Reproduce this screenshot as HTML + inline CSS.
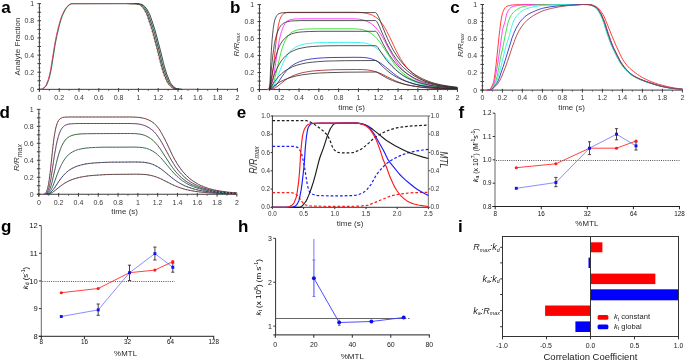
<!DOCTYPE html>
<html><head><meta charset="utf-8"><style>
html,body{margin:0;padding:0;background:#fff;}
svg{display:block;will-change:transform;font-family:"Liberation Sans",sans-serif;}
</style></head><body>
<svg width="685" height="361" viewBox="0 0 685 361">
<rect width="685" height="361" fill="#fff"/>
<line x1="39.4" y1="91.65" x2="39.4" y2="3.65" stroke="#3c3c3c" stroke-width="1"/>
<line x1="37.4" y1="89.35" x2="41" y2="89.35" stroke="#3c3c3c" stroke-width="1"/>
<line x1="38.4" y1="85.06" x2="40.4" y2="85.06" stroke="#3c3c3c" stroke-width="0.8"/>
<line x1="37.4" y1="80.78" x2="41" y2="80.78" stroke="#3c3c3c" stroke-width="1"/>
<line x1="38.4" y1="76.49" x2="40.4" y2="76.49" stroke="#3c3c3c" stroke-width="0.8"/>
<line x1="37.4" y1="72.21" x2="41" y2="72.21" stroke="#3c3c3c" stroke-width="1"/>
<line x1="38.4" y1="67.92" x2="40.4" y2="67.92" stroke="#3c3c3c" stroke-width="0.8"/>
<line x1="37.4" y1="63.64" x2="41" y2="63.64" stroke="#3c3c3c" stroke-width="1"/>
<line x1="38.4" y1="59.35" x2="40.4" y2="59.35" stroke="#3c3c3c" stroke-width="0.8"/>
<line x1="37.4" y1="55.07" x2="41" y2="55.07" stroke="#3c3c3c" stroke-width="1"/>
<line x1="38.4" y1="50.78" x2="40.4" y2="50.78" stroke="#3c3c3c" stroke-width="0.8"/>
<line x1="37.4" y1="46.5" x2="41" y2="46.5" stroke="#3c3c3c" stroke-width="1"/>
<line x1="38.4" y1="42.21" x2="40.4" y2="42.21" stroke="#3c3c3c" stroke-width="0.8"/>
<line x1="37.4" y1="37.93" x2="41" y2="37.93" stroke="#3c3c3c" stroke-width="1"/>
<line x1="38.4" y1="33.64" x2="40.4" y2="33.64" stroke="#3c3c3c" stroke-width="0.8"/>
<line x1="37.4" y1="29.36" x2="41" y2="29.36" stroke="#3c3c3c" stroke-width="1"/>
<line x1="38.4" y1="25.07" x2="40.4" y2="25.07" stroke="#3c3c3c" stroke-width="0.8"/>
<line x1="37.4" y1="20.79" x2="41" y2="20.79" stroke="#3c3c3c" stroke-width="1"/>
<line x1="38.4" y1="16.5" x2="40.4" y2="16.5" stroke="#3c3c3c" stroke-width="0.8"/>
<line x1="37.4" y1="12.22" x2="41" y2="12.22" stroke="#3c3c3c" stroke-width="1"/>
<line x1="38.4" y1="7.93" x2="40.4" y2="7.93" stroke="#3c3c3c" stroke-width="0.8"/>
<line x1="37.4" y1="3.65" x2="41" y2="3.65" stroke="#3c3c3c" stroke-width="1"/>
<text x="34.2" y="91.85" font-size="7" fill="#3a3a3a" text-anchor="end">0</text>
<text x="34.2" y="74.71" font-size="7" fill="#3a3a3a" text-anchor="end">0.2</text>
<text x="34.2" y="57.57" font-size="7" fill="#3a3a3a" text-anchor="end">0.4</text>
<text x="34.2" y="40.43" font-size="7" fill="#3a3a3a" text-anchor="end">0.6</text>
<text x="34.2" y="23.29" font-size="7" fill="#3a3a3a" text-anchor="end">0.8</text>
<text x="34.2" y="6.15" font-size="7" fill="#3a3a3a" text-anchor="end">1</text>
<line x1="37.4" y1="89.35" x2="237.4" y2="89.35" stroke="#3c3c3c" stroke-width="1"/>
<line x1="39.4" y1="88.05" x2="39.4" y2="91.75" stroke="#3c3c3c" stroke-width="1"/>
<line x1="49.3" y1="89.35" x2="49.3" y2="90.85" stroke="#3c3c3c" stroke-width="0.8"/>
<line x1="59.2" y1="88.05" x2="59.2" y2="91.75" stroke="#3c3c3c" stroke-width="1"/>
<line x1="69.1" y1="89.35" x2="69.1" y2="90.85" stroke="#3c3c3c" stroke-width="0.8"/>
<line x1="79" y1="88.05" x2="79" y2="91.75" stroke="#3c3c3c" stroke-width="1"/>
<line x1="88.9" y1="89.35" x2="88.9" y2="90.85" stroke="#3c3c3c" stroke-width="0.8"/>
<line x1="98.8" y1="88.05" x2="98.8" y2="91.75" stroke="#3c3c3c" stroke-width="1"/>
<line x1="108.7" y1="89.35" x2="108.7" y2="90.85" stroke="#3c3c3c" stroke-width="0.8"/>
<line x1="118.6" y1="88.05" x2="118.6" y2="91.75" stroke="#3c3c3c" stroke-width="1"/>
<line x1="128.5" y1="89.35" x2="128.5" y2="90.85" stroke="#3c3c3c" stroke-width="0.8"/>
<line x1="138.4" y1="88.05" x2="138.4" y2="91.75" stroke="#3c3c3c" stroke-width="1"/>
<line x1="148.3" y1="89.35" x2="148.3" y2="90.85" stroke="#3c3c3c" stroke-width="0.8"/>
<line x1="158.2" y1="88.05" x2="158.2" y2="91.75" stroke="#3c3c3c" stroke-width="1"/>
<line x1="168.1" y1="89.35" x2="168.1" y2="90.85" stroke="#3c3c3c" stroke-width="0.8"/>
<line x1="178" y1="88.05" x2="178" y2="91.75" stroke="#3c3c3c" stroke-width="1"/>
<line x1="187.9" y1="89.35" x2="187.9" y2="90.85" stroke="#3c3c3c" stroke-width="0.8"/>
<line x1="197.8" y1="88.05" x2="197.8" y2="91.75" stroke="#3c3c3c" stroke-width="1"/>
<line x1="207.7" y1="89.35" x2="207.7" y2="90.85" stroke="#3c3c3c" stroke-width="0.8"/>
<line x1="217.6" y1="88.05" x2="217.6" y2="91.75" stroke="#3c3c3c" stroke-width="1"/>
<line x1="227.5" y1="89.35" x2="227.5" y2="90.85" stroke="#3c3c3c" stroke-width="0.8"/>
<line x1="237.4" y1="88.05" x2="237.4" y2="91.75" stroke="#3c3c3c" stroke-width="1"/>
<text x="39.4" y="99.65" font-size="7" fill="#3a3a3a" text-anchor="middle">0</text>
<text x="59.2" y="99.65" font-size="7" fill="#3a3a3a" text-anchor="middle">0.2</text>
<text x="79" y="99.65" font-size="7" fill="#3a3a3a" text-anchor="middle">0.4</text>
<text x="98.8" y="99.65" font-size="7" fill="#3a3a3a" text-anchor="middle">0.6</text>
<text x="118.6" y="99.65" font-size="7" fill="#3a3a3a" text-anchor="middle">0.8</text>
<text x="138.4" y="99.65" font-size="7" fill="#3a3a3a" text-anchor="middle">1</text>
<text x="158.2" y="99.65" font-size="7" fill="#3a3a3a" text-anchor="middle">1.2</text>
<text x="178" y="99.65" font-size="7" fill="#3a3a3a" text-anchor="middle">1.4</text>
<text x="197.8" y="99.65" font-size="7" fill="#3a3a3a" text-anchor="middle">1.6</text>
<text x="217.6" y="99.65" font-size="7" fill="#3a3a3a" text-anchor="middle">1.8</text>
<text x="237.4" y="99.65" font-size="7" fill="#3a3a3a" text-anchor="middle">2</text>
<text x="20.3" y="46.5" font-size="8" fill="#333" text-anchor="middle" transform="rotate(-90 20.3 46.5)">Analyte Fraction</text>
<path d="M127.6,3.6 L135.1,3.7 L137.1,4.0 L139.3,4.5 L140.5,5.2 L141.8,6.3 L143.5,8.2 L144.7,10.0 L146.5,13.3 L147.7,16.2 L151.7,28.2 L153.6,34.9 L157.8,50.9 L160.6,62.3 L161.8,66.9 L164.0,74.0 L166.5,80.1 L167.7,82.6 L168.7,84.2 L170.7,86.3 L172.4,87.8 L173.7,88.5 L174.7,88.9 L177.4,89.3 L179.6,89.3" fill="none" stroke="#111" stroke-width="0.8" stroke-linejoin="round"/>
<path d="M129.0,3.6 L136.4,3.7 L138.4,4.0 L140.6,4.5 L141.9,5.2 L143.1,6.3 L144.8,8.2 L146.1,10.0 L147.8,13.3 L149.0,16.2 L153.0,28.2 L155.0,34.9 L159.2,50.9 L161.9,62.3 L163.2,66.9 L165.4,74.0 L167.9,80.1 L169.1,82.6 L170.1,84.2 L172.1,86.3 L173.8,87.8 L175.0,88.5 L176.0,88.9 L178.7,89.3 L181.0,89.3" fill="none" stroke="#111" stroke-width="0.8" stroke-linejoin="round"/>
<path d="M130.3,3.6 L137.8,3.7 L139.8,4.0 L142.0,4.5 L143.2,5.2 L144.5,6.3 L146.2,8.2 L147.4,10.0 L149.2,13.3 L150.4,16.2 L154.4,28.2 L156.3,34.9 L160.5,50.9 L163.3,62.3 L164.5,66.9 L166.7,74.0 L169.2,80.1 L170.4,82.6 L171.4,84.2 L173.4,86.3 L175.1,87.8 L176.4,88.5 L177.4,88.9 L180.1,89.3 L182.3,89.3" fill="none" stroke="#111" stroke-width="0.8" stroke-linejoin="round"/>
<path d="M126.9,3.6 L134.4,3.7 L136.4,4.0 L138.6,4.5 L139.8,5.2 L141.1,6.3 L142.8,8.2 L144.0,10.0 L145.8,13.3 L147.0,16.2 L151.0,28.2 L152.9,34.9 L157.1,50.9 L159.9,62.3 L161.1,66.9 L163.3,74.0 L165.8,80.1 L167.0,82.6 L168.0,84.2 L170.0,86.3 L171.7,87.8 L173.0,88.5 L174.0,88.9 L176.7,89.3 L178.9,89.3" fill="none" stroke="#e02020" stroke-width="0.6" stroke-linejoin="round" stroke-dasharray="1.5,2"/>
<path d="M128.3,3.6 L135.7,3.7 L137.7,4.0 L139.9,4.5 L141.2,5.2 L142.4,6.3 L144.1,8.2 L145.4,10.0 L147.1,13.3 L148.3,16.2 L152.3,28.2 L154.3,34.9 L158.5,50.9 L161.2,62.3 L162.5,66.9 L164.7,74.0 L167.2,80.1 L168.4,82.6 L169.4,84.2 L171.4,86.3 L173.1,87.8 L174.3,88.5 L175.3,88.9 L178.0,89.3 L180.3,89.3" fill="none" stroke="#30c030" stroke-width="0.6" stroke-linejoin="round" stroke-dasharray="1.2,2.2"/>
<path d="M129.6,3.6 L137.1,3.7 L139.1,4.0 L141.3,4.5 L142.5,5.2 L143.8,6.3 L145.5,8.2 L146.7,10.0 L148.5,13.3 L149.7,16.2 L153.7,28.2 L155.6,34.9 L159.8,50.9 L162.6,62.3 L163.8,66.9 L166.0,74.0 L168.5,80.1 L169.7,82.6 L170.7,84.2 L172.7,86.3 L174.4,87.8 L175.7,88.5 L176.7,88.9 L179.4,89.3 L181.6,89.3" fill="none" stroke="#00c0c0" stroke-width="0.6" stroke-linejoin="round" stroke-dasharray="1.2,2.2"/>
<line x1="182.95" y1="89.35" x2="195.82" y2="89.35" stroke="#ff4040" stroke-width="1" stroke-opacity="0.7"/>
<path d="M41.0,89.3 L42.0,89.3 L43.0,88.9 L44.2,88.0 L45.7,86.6 L46.4,85.5 L47.2,84.0 L48.9,79.5 L50.1,74.9 L51.4,69.1 L55.3,44.1 L57.1,35.4 L59.1,26.9 L60.0,23.3 L61.3,19.2 L62.3,16.3 L63.0,14.5 L64.3,11.9 L65.5,9.5 L66.7,7.7 L67.7,6.5 L69.4,5.0 L70.4,4.3 L71.4,3.8 L72.2,3.7 L133.6,3.6" fill="none" stroke="#20c020" stroke-width="0.7" stroke-linejoin="round"/>
<path d="M40.6,89.3 L41.6,89.3 L42.6,88.9 L43.9,88.0 L45.3,86.6 L46.1,85.5 L46.8,84.0 L48.6,79.5 L49.8,74.9 L51.0,69.1 L55.0,44.1 L56.7,35.4 L58.7,26.9 L59.7,23.3 L60.9,19.2 L61.9,16.3 L62.7,14.5 L63.9,11.9 L65.1,9.5 L66.4,7.7 L67.4,6.5 L69.1,5.0 L70.1,4.3 L71.1,3.8 L71.8,3.7 L133.2,3.6" fill="none" stroke="#222" stroke-width="0.7" stroke-linejoin="round"/>
<path d="M40.3,89.3 L41.3,89.3 L42.3,88.9 L43.6,88.0 L45.0,86.6 L45.8,85.5 L46.5,84.0 L48.3,79.5 L49.5,74.9 L50.7,69.1 L54.7,44.1 L56.4,35.4 L58.4,26.9 L59.4,23.3 L60.6,19.2 L61.6,16.3 L62.4,14.5 L63.6,11.9 L64.8,9.5 L66.1,7.7 L67.1,6.5 L68.8,5.0 L69.8,4.3 L70.8,3.8 L71.5,3.7 L132.9,3.6" fill="none" stroke="#ff3090" stroke-width="0.7" stroke-linejoin="round"/>
<text x="1.2" y="12.8" font-size="17" fill="#000" font-weight="bold">a</text>
<line x1="259.45" y1="91.85" x2="259.45" y2="4.6" stroke="#3c3c3c" stroke-width="1"/>
<line x1="257.45" y1="89.55" x2="261.05" y2="89.55" stroke="#3c3c3c" stroke-width="1"/>
<line x1="258.45" y1="85.3" x2="260.45" y2="85.3" stroke="#3c3c3c" stroke-width="0.8"/>
<line x1="257.45" y1="81.05" x2="261.05" y2="81.05" stroke="#3c3c3c" stroke-width="1"/>
<line x1="258.45" y1="76.81" x2="260.45" y2="76.81" stroke="#3c3c3c" stroke-width="0.8"/>
<line x1="257.45" y1="72.56" x2="261.05" y2="72.56" stroke="#3c3c3c" stroke-width="1"/>
<line x1="258.45" y1="68.31" x2="260.45" y2="68.31" stroke="#3c3c3c" stroke-width="0.8"/>
<line x1="257.45" y1="64.06" x2="261.05" y2="64.06" stroke="#3c3c3c" stroke-width="1"/>
<line x1="258.45" y1="59.82" x2="260.45" y2="59.82" stroke="#3c3c3c" stroke-width="0.8"/>
<line x1="257.45" y1="55.57" x2="261.05" y2="55.57" stroke="#3c3c3c" stroke-width="1"/>
<line x1="258.45" y1="51.32" x2="260.45" y2="51.32" stroke="#3c3c3c" stroke-width="0.8"/>
<line x1="257.45" y1="47.07" x2="261.05" y2="47.07" stroke="#3c3c3c" stroke-width="1"/>
<line x1="258.45" y1="42.83" x2="260.45" y2="42.83" stroke="#3c3c3c" stroke-width="0.8"/>
<line x1="257.45" y1="38.58" x2="261.05" y2="38.58" stroke="#3c3c3c" stroke-width="1"/>
<line x1="258.45" y1="34.33" x2="260.45" y2="34.33" stroke="#3c3c3c" stroke-width="0.8"/>
<line x1="257.45" y1="30.08" x2="261.05" y2="30.08" stroke="#3c3c3c" stroke-width="1"/>
<line x1="258.45" y1="25.84" x2="260.45" y2="25.84" stroke="#3c3c3c" stroke-width="0.8"/>
<line x1="257.45" y1="21.59" x2="261.05" y2="21.59" stroke="#3c3c3c" stroke-width="1"/>
<line x1="258.45" y1="17.34" x2="260.45" y2="17.34" stroke="#3c3c3c" stroke-width="0.8"/>
<line x1="257.45" y1="13.09" x2="261.05" y2="13.09" stroke="#3c3c3c" stroke-width="1"/>
<line x1="258.45" y1="8.85" x2="260.45" y2="8.85" stroke="#3c3c3c" stroke-width="0.8"/>
<line x1="257.45" y1="4.6" x2="261.05" y2="4.6" stroke="#3c3c3c" stroke-width="1"/>
<text x="254.25" y="92.05" font-size="7" fill="#3a3a3a" text-anchor="end">0</text>
<text x="254.25" y="75.06" font-size="7" fill="#3a3a3a" text-anchor="end">0.2</text>
<text x="254.25" y="58.07" font-size="7" fill="#3a3a3a" text-anchor="end">0.4</text>
<text x="254.25" y="41.08" font-size="7" fill="#3a3a3a" text-anchor="end">0.6</text>
<text x="254.25" y="24.09" font-size="7" fill="#3a3a3a" text-anchor="end">0.8</text>
<text x="254.25" y="7.1" font-size="7" fill="#3a3a3a" text-anchor="end">1</text>
<line x1="257.45" y1="89.55" x2="457.45" y2="89.55" stroke="#3c3c3c" stroke-width="1"/>
<line x1="259.45" y1="88.25" x2="259.45" y2="91.95" stroke="#3c3c3c" stroke-width="1"/>
<line x1="269.35" y1="89.55" x2="269.35" y2="91.05" stroke="#3c3c3c" stroke-width="0.8"/>
<line x1="279.25" y1="88.25" x2="279.25" y2="91.95" stroke="#3c3c3c" stroke-width="1"/>
<line x1="289.15" y1="89.55" x2="289.15" y2="91.05" stroke="#3c3c3c" stroke-width="0.8"/>
<line x1="299.05" y1="88.25" x2="299.05" y2="91.95" stroke="#3c3c3c" stroke-width="1"/>
<line x1="308.95" y1="89.55" x2="308.95" y2="91.05" stroke="#3c3c3c" stroke-width="0.8"/>
<line x1="318.85" y1="88.25" x2="318.85" y2="91.95" stroke="#3c3c3c" stroke-width="1"/>
<line x1="328.75" y1="89.55" x2="328.75" y2="91.05" stroke="#3c3c3c" stroke-width="0.8"/>
<line x1="338.65" y1="88.25" x2="338.65" y2="91.95" stroke="#3c3c3c" stroke-width="1"/>
<line x1="348.55" y1="89.55" x2="348.55" y2="91.05" stroke="#3c3c3c" stroke-width="0.8"/>
<line x1="358.45" y1="88.25" x2="358.45" y2="91.95" stroke="#3c3c3c" stroke-width="1"/>
<line x1="368.35" y1="89.55" x2="368.35" y2="91.05" stroke="#3c3c3c" stroke-width="0.8"/>
<line x1="378.25" y1="88.25" x2="378.25" y2="91.95" stroke="#3c3c3c" stroke-width="1"/>
<line x1="388.15" y1="89.55" x2="388.15" y2="91.05" stroke="#3c3c3c" stroke-width="0.8"/>
<line x1="398.05" y1="88.25" x2="398.05" y2="91.95" stroke="#3c3c3c" stroke-width="1"/>
<line x1="407.95" y1="89.55" x2="407.95" y2="91.05" stroke="#3c3c3c" stroke-width="0.8"/>
<line x1="417.85" y1="88.25" x2="417.85" y2="91.95" stroke="#3c3c3c" stroke-width="1"/>
<line x1="427.75" y1="89.55" x2="427.75" y2="91.05" stroke="#3c3c3c" stroke-width="0.8"/>
<line x1="437.65" y1="88.25" x2="437.65" y2="91.95" stroke="#3c3c3c" stroke-width="1"/>
<line x1="447.55" y1="89.55" x2="447.55" y2="91.05" stroke="#3c3c3c" stroke-width="0.8"/>
<line x1="457.45" y1="88.25" x2="457.45" y2="91.95" stroke="#3c3c3c" stroke-width="1"/>
<text x="259.45" y="99.85" font-size="7" fill="#3a3a3a" text-anchor="middle">0</text>
<text x="279.25" y="99.85" font-size="7" fill="#3a3a3a" text-anchor="middle">0.2</text>
<text x="299.05" y="99.85" font-size="7" fill="#3a3a3a" text-anchor="middle">0.4</text>
<text x="318.85" y="99.85" font-size="7" fill="#3a3a3a" text-anchor="middle">0.6</text>
<text x="338.65" y="99.85" font-size="7" fill="#3a3a3a" text-anchor="middle">0.8</text>
<text x="358.45" y="99.85" font-size="7" fill="#3a3a3a" text-anchor="middle">1</text>
<text x="378.25" y="99.85" font-size="7" fill="#3a3a3a" text-anchor="middle">1.2</text>
<text x="398.05" y="99.85" font-size="7" fill="#3a3a3a" text-anchor="middle">1.4</text>
<text x="417.85" y="99.85" font-size="7" fill="#3a3a3a" text-anchor="middle">1.6</text>
<text x="437.65" y="99.85" font-size="7" fill="#3a3a3a" text-anchor="middle">1.8</text>
<text x="457.45" y="99.85" font-size="7" fill="#3a3a3a" text-anchor="middle">2</text>
<text x="351.5" y="110.2" font-size="8" fill="#333" text-anchor="middle">time (s)</text>
<text transform="translate(238.6,56.5) rotate(-90)" font-size="8" fill="#333" font-style="italic">R/R<tspan font-size="5.2" dy="1.6">max</tspan></text>
<path d="M266.9,89.5 L267.6,89.2 L268.4,88.7 L269.1,87.7 L269.6,86.8 L270.6,84.0 L271.6,79.7 L272.3,75.2 L273.3,67.7 L275.8,43.9 L277.0,33.7 L278.3,26.1 L279.0,22.7 L279.7,20.0 L280.5,18.0 L281.5,16.0 L282.5,14.7 L283.7,13.7 L285.2,13.0 L286.9,12.5 L288.9,12.3 L292.1,12.3 L351.5,12.2 L358.0,12.3 L362.2,12.6 L365.9,13.2 L369.3,14.1 L372.3,15.2 L375.3,16.9 L376.8,17.9 L378.0,18.9 L380.2,21.2 L382.7,24.5 L384.9,27.9 L386.9,31.5 L389.9,37.5 L396.1,50.5 L398.3,54.8 L400.5,58.7 L403.2,62.8 L406.2,66.7 L409.4,70.3 L412.7,73.3 L414.6,74.9 L416.6,76.4 L418.8,77.8 L421.1,79.1 L423.3,80.3 L425.8,81.4 L430.7,83.3 L436.4,84.9 L442.6,86.2 L449.5,87.2 L457.4,88.0" fill="none" stroke="#ff2a2a" stroke-width="0.9" stroke-linejoin="round"/>
<path d="M267.4,89.5 L268.4,89.1 L269.1,88.7 L269.8,87.9 L270.3,87.2 L271.1,85.8 L271.6,84.5 L272.6,81.2 L273.3,77.9 L274.1,73.8 L277.5,50.7 L279.2,40.8 L280.2,36.2 L281.5,31.5 L282.5,28.6 L283.7,25.7 L284.9,23.6 L286.4,21.9 L287.9,20.7 L289.6,19.9 L291.6,19.4 L294.3,19.0 L297.8,18.9 L303.0,18.8 L349.0,18.8 L355.0,18.9 L358.7,19.1 L361.9,19.7 L364.4,20.3 L367.1,21.4 L370.1,22.9 L372.8,24.9 L375.3,27.1 L377.5,29.7 L380.0,33.1 L382.5,37.1 L384.4,40.6 L392.1,54.8 L394.6,59.0 L396.8,62.4 L399.8,66.3 L402.8,69.7 L406.0,72.8 L409.2,75.4 L411.2,76.8 L413.4,78.2 L415.6,79.5 L418.1,80.7 L420.6,81.8 L423.0,82.8 L428.5,84.5 L434.4,85.8 L441.1,86.9 L448.8,87.8 L457.4,88.4" fill="none" stroke="#ff30ff" stroke-width="0.9" stroke-linejoin="round"/>
<path d="M267.9,89.4 L268.9,89.2 L269.6,88.9 L270.8,87.9 L271.6,87.0 L272.1,86.2 L273.3,83.5 L274.1,81.2 L275.0,77.6 L279.5,58.2 L281.0,52.4 L282.2,48.2 L283.7,44.0 L285.2,40.5 L286.7,37.7 L288.4,35.3 L289.4,34.2 L290.4,33.3 L292.4,31.9 L294.8,30.8 L297.8,29.9 L301.0,29.4 L305.2,29.1 L310.7,28.9 L318.8,28.8 L350.5,28.8 L356.2,28.9 L359.4,29.2 L362.2,29.6 L364.6,30.2 L366.9,31.1 L369.6,32.4 L372.1,34.1 L374.8,36.3 L377.0,38.6 L379.2,41.3 L381.5,44.4 L383.9,48.1 L391.4,59.6 L393.8,63.2 L396.1,66.1 L399.0,69.5 L402.0,72.4 L405.2,75.1 L408.7,77.5 L412.9,79.9 L417.6,82.0 L422.6,83.8 L428.0,85.2 L434.2,86.4 L440.9,87.4 L448.5,88.1 L457.4,88.6" fill="none" stroke="#30e030" stroke-width="0.9" stroke-linejoin="round"/>
<path d="M268.6,89.4 L270.1,89.1 L271.6,88.3 L272.8,87.1 L273.8,85.7 L274.8,83.9 L276.0,81.1 L280.5,69.3 L282.2,65.0 L283.7,61.6 L285.2,58.7 L287.2,55.3 L289.4,52.3 L291.6,50.0 L294.1,48.1 L295.6,47.1 L297.1,46.4 L300.3,45.1 L304.0,44.1 L308.2,43.5 L313.2,43.0 L319.3,42.7 L327.3,42.5 L338.6,42.4 L354.7,42.4 L360.4,42.6 L363.2,42.8 L365.4,43.1 L367.6,43.7 L369.6,44.3 L372.1,45.4 L374.3,46.7 L376.8,48.4 L379.0,50.2 L380.7,51.9 L383.0,54.3 L392.9,66.1 L395.6,69.1 L397.8,71.3 L400.5,73.7 L403.5,76.0 L406.7,78.1 L409.9,79.9 L414.1,81.8 L418.6,83.5 L423.5,84.9 L429.0,86.0 L434.9,87.0 L441.4,87.7 L448.8,88.3 L457.4,88.8" fill="none" stroke="#30f0f0" stroke-width="0.9" stroke-linejoin="round"/>
<path d="M269.6,89.4 L271.3,89.0 L272.6,88.5 L273.8,87.6 L275.0,86.4 L277.3,83.6 L282.0,76.6 L284.2,73.5 L286.7,70.5 L288.9,68.2 L291.4,66.1 L293.9,64.4 L296.6,63.0 L299.5,61.7 L303.3,60.5 L307.5,59.5 L312.2,58.8 L317.9,58.2 L324.3,57.8 L332.0,57.5 L355.0,57.3 L362.2,57.4 L364.9,57.6 L367.1,57.9 L369.3,58.3 L371.3,58.8 L373.5,59.5 L375.5,60.4 L379.0,62.2 L382.2,64.3 L385.4,66.8 L393.8,73.7 L396.8,75.9 L399.5,77.7 L402.5,79.4 L405.7,81.0 L409.2,82.4 L412.9,83.7 L416.9,84.8 L421.3,85.8 L426.0,86.6 L431.0,87.3 L436.4,87.9 L442.6,88.3 L449.5,88.7 L457.4,89.0" fill="none" stroke="#3030c8" stroke-width="0.9" stroke-linejoin="round"/>
<path d="M270.6,89.4 L272.1,89.1 L273.3,88.8 L274.3,88.4 L275.5,87.7 L278.0,85.9 L283.0,81.9 L285.4,80.0 L287.9,78.4 L290.4,77.0 L293.1,75.7 L295.8,74.6 L299.1,73.6 L302.3,72.7 L306.5,71.9 L310.9,71.2 L316.1,70.7 L321.8,70.3 L328.3,70.0 L335.9,69.7 L356.7,69.5 L362.7,69.6 L367.1,69.9 L371.1,70.5 L375.0,71.5 L378.2,72.5 L381.5,73.9 L392.6,79.5 L395.6,80.9 L398.3,82.0 L401.5,83.2 L404.7,84.2 L408.2,85.1 L411.7,85.8 L415.6,86.5 L420.1,87.2 L425.0,87.7 L430.2,88.2 L442.4,88.8 L457.4,89.2" fill="none" stroke="#b03030" stroke-width="0.9" stroke-linejoin="round"/>
<path d="M269.3,89.5 L269.8,89.5 L270.8,61.7 L271.3,51.4 L272.1,39.9 L273.1,29.7 L273.6,26.1 L274.3,22.1 L275.0,19.3 L275.8,17.3 L276.8,15.5 L277.3,14.9 L278.0,14.2 L279.2,13.5 L281.0,13.0 L283.2,12.7 L286.9,12.6 L375.3,12.6 L375.8,12.7 L376.3,13.1 L377.0,14.0 L378.5,16.8 L380.0,20.2 L384.7,32.0 L387.4,38.4 L390.4,44.7 L393.3,50.2 L396.8,55.8 L400.3,60.6 L404.0,65.0 L406.0,67.1 L407.9,69.0 L410.2,70.9 L412.4,72.7 L414.9,74.5 L417.4,76.0 L419.8,77.4 L422.6,78.8 L425.3,80.0 L428.2,81.2 L431.2,82.3 L434.4,83.2 L437.9,84.1 L441.4,84.9 L449.0,86.2 L457.4,87.3" fill="none" stroke="#2a2a2a" stroke-width="0.8" stroke-linejoin="round"/>
<path d="M269.3,89.5 L269.8,89.5 L270.8,75.6 L271.6,66.8 L272.6,57.1 L273.6,49.5 L274.5,43.4 L275.8,37.6 L277.0,33.3 L278.3,30.1 L279.7,27.3 L281.2,25.3 L282.2,24.3 L283.2,23.5 L284.2,22.9 L285.4,22.3 L287.9,21.5 L290.9,21.0 L294.8,20.8 L300.8,20.6 L375.3,20.6 L375.8,20.7 L376.3,21.0 L376.8,21.6 L378.0,23.7 L379.5,26.8 L383.7,36.6 L386.4,42.5 L389.4,48.2 L392.6,53.7 L396.1,58.9 L399.5,63.2 L401.5,65.5 L403.5,67.5 L407.5,71.1 L409.7,72.8 L411.9,74.4 L414.4,76.0 L416.9,77.4 L419.6,78.8 L422.3,80.0 L425.0,81.1 L428.0,82.1 L434.2,83.9 L441.1,85.4 L448.8,86.6 L457.4,87.6" fill="none" stroke="#2a2a2a" stroke-width="0.8" stroke-linejoin="round"/>
<path d="M269.3,89.5 L269.8,89.5 L271.3,78.8 L272.6,71.1 L274.1,63.6 L275.8,56.5 L277.5,51.0 L279.2,46.7 L280.2,44.7 L281.2,42.9 L282.2,41.4 L283.5,39.8 L284.4,38.7 L285.7,37.5 L286.9,36.5 L288.4,35.5 L289.9,34.7 L291.4,34.0 L293.1,33.4 L294.8,33.0 L298.8,32.2 L303.5,31.8 L309.7,31.5 L318.1,31.3 L375.3,31.3 L375.8,31.3 L376.3,31.7 L376.8,32.2 L378.0,34.0 L379.5,36.7 L383.7,45.1 L386.2,49.6 L389.1,54.5 L392.4,59.2 L395.8,63.5 L399.5,67.5 L403.5,71.1 L407.5,74.0 L411.9,76.8 L414.4,78.2 L416.9,79.3 L419.6,80.5 L422.3,81.5 L428.0,83.3 L434.2,84.8 L441.1,86.1 L448.8,87.1 L457.4,87.9" fill="none" stroke="#2a2a2a" stroke-width="0.8" stroke-linejoin="round"/>
<path d="M269.3,89.5 L269.8,89.5 L272.3,80.7 L274.5,74.2 L276.5,69.4 L278.8,65.0 L281.2,61.1 L282.5,59.4 L284.0,57.6 L285.4,56.1 L286.9,54.8 L288.4,53.6 L290.1,52.4 L291.9,51.4 L293.6,50.6 L297.3,49.1 L301.8,48.0 L306.7,47.1 L312.4,46.5 L319.3,46.1 L327.8,45.8 L339.4,45.7 L375.8,45.7 L376.3,45.9 L376.8,46.3 L378.0,47.7 L383.4,55.8 L385.9,59.3 L388.9,63.0 L392.1,66.5 L395.6,69.8 L399.3,72.8 L403.2,75.5 L407.2,77.8 L411.7,79.9 L416.6,81.8 L422.1,83.5 L427.8,84.8 L433.9,86.0 L440.9,86.9 L448.5,87.7 L457.4,88.3" fill="none" stroke="#2a2a2a" stroke-width="0.8" stroke-linejoin="round"/>
<path d="M269.3,89.5 L269.8,89.5 L273.1,83.9 L274.5,81.7 L276.0,79.7 L278.8,76.4 L281.7,73.5 L284.9,71.0 L286.7,69.8 L288.7,68.7 L292.6,66.7 L296.8,65.2 L301.3,64.0 L306.5,62.9 L312.2,62.2 L318.6,61.6 L326.0,61.1 L334.7,60.9 L345.6,60.7 L360.2,60.6 L375.5,60.5 L376.3,60.7 L377.3,61.3 L378.2,62.1 L383.7,67.5 L386.9,70.4 L390.1,73.0 L393.3,75.2 L397.3,77.5 L401.8,79.7 L406.2,81.4 L411.2,83.0 L415.4,84.2 L420.1,85.2 L425.0,86.0 L430.5,86.8 L436.2,87.4 L442.6,87.9 L449.5,88.4 L457.4,88.7" fill="none" stroke="#2a2a2a" stroke-width="0.8" stroke-linejoin="round"/>
<path d="M269.3,89.5 L269.8,89.5 L273.3,86.5 L277.0,83.7 L280.2,81.8 L283.7,80.1 L287.7,78.4 L291.9,77.1 L296.6,75.9 L301.8,74.9 L307.0,74.2 L312.9,73.5 L319.6,73.0 L327.3,72.7 L346.1,72.2 L375.3,72.0 L376.3,72.1 L377.8,72.7 L385.9,77.5 L389.1,79.1 L392.4,80.5 L395.8,81.8 L399.3,82.9 L403.2,84.0 L407.2,84.9 L411.7,85.7 L416.6,86.5 L422.1,87.1 L427.8,87.7 L433.9,88.1 L440.9,88.5 L457.4,89.0" fill="none" stroke="#2a2a2a" stroke-width="0.8" stroke-linejoin="round"/>
<text x="230" y="12.8" font-size="17" fill="#000" font-weight="bold">b</text>
<line x1="482.4" y1="92.4" x2="482.4" y2="4.5" stroke="#3c3c3c" stroke-width="1"/>
<line x1="480.4" y1="90.1" x2="484" y2="90.1" stroke="#3c3c3c" stroke-width="1"/>
<line x1="481.4" y1="85.82" x2="483.4" y2="85.82" stroke="#3c3c3c" stroke-width="0.8"/>
<line x1="480.4" y1="81.54" x2="484" y2="81.54" stroke="#3c3c3c" stroke-width="1"/>
<line x1="481.4" y1="77.26" x2="483.4" y2="77.26" stroke="#3c3c3c" stroke-width="0.8"/>
<line x1="480.4" y1="72.98" x2="484" y2="72.98" stroke="#3c3c3c" stroke-width="1"/>
<line x1="481.4" y1="68.7" x2="483.4" y2="68.7" stroke="#3c3c3c" stroke-width="0.8"/>
<line x1="480.4" y1="64.42" x2="484" y2="64.42" stroke="#3c3c3c" stroke-width="1"/>
<line x1="481.4" y1="60.14" x2="483.4" y2="60.14" stroke="#3c3c3c" stroke-width="0.8"/>
<line x1="480.4" y1="55.86" x2="484" y2="55.86" stroke="#3c3c3c" stroke-width="1"/>
<line x1="481.4" y1="51.58" x2="483.4" y2="51.58" stroke="#3c3c3c" stroke-width="0.8"/>
<line x1="480.4" y1="47.3" x2="484" y2="47.3" stroke="#3c3c3c" stroke-width="1"/>
<line x1="481.4" y1="43.02" x2="483.4" y2="43.02" stroke="#3c3c3c" stroke-width="0.8"/>
<line x1="480.4" y1="38.74" x2="484" y2="38.74" stroke="#3c3c3c" stroke-width="1"/>
<line x1="481.4" y1="34.46" x2="483.4" y2="34.46" stroke="#3c3c3c" stroke-width="0.8"/>
<line x1="480.4" y1="30.18" x2="484" y2="30.18" stroke="#3c3c3c" stroke-width="1"/>
<line x1="481.4" y1="25.9" x2="483.4" y2="25.9" stroke="#3c3c3c" stroke-width="0.8"/>
<line x1="480.4" y1="21.62" x2="484" y2="21.62" stroke="#3c3c3c" stroke-width="1"/>
<line x1="481.4" y1="17.34" x2="483.4" y2="17.34" stroke="#3c3c3c" stroke-width="0.8"/>
<line x1="480.4" y1="13.06" x2="484" y2="13.06" stroke="#3c3c3c" stroke-width="1"/>
<line x1="481.4" y1="8.78" x2="483.4" y2="8.78" stroke="#3c3c3c" stroke-width="0.8"/>
<line x1="480.4" y1="4.5" x2="484" y2="4.5" stroke="#3c3c3c" stroke-width="1"/>
<text x="477.2" y="92.6" font-size="7" fill="#3a3a3a" text-anchor="end">0</text>
<text x="477.2" y="75.48" font-size="7" fill="#3a3a3a" text-anchor="end">0.2</text>
<text x="477.2" y="58.36" font-size="7" fill="#3a3a3a" text-anchor="end">0.4</text>
<text x="477.2" y="41.24" font-size="7" fill="#3a3a3a" text-anchor="end">0.6</text>
<text x="477.2" y="24.12" font-size="7" fill="#3a3a3a" text-anchor="end">0.8</text>
<text x="477.2" y="7" font-size="7" fill="#3a3a3a" text-anchor="end">1</text>
<line x1="480.4" y1="90.1" x2="682.4" y2="90.1" stroke="#3c3c3c" stroke-width="1"/>
<line x1="482.4" y1="88.8" x2="482.4" y2="92.5" stroke="#3c3c3c" stroke-width="1"/>
<line x1="492.4" y1="90.1" x2="492.4" y2="91.6" stroke="#3c3c3c" stroke-width="0.8"/>
<line x1="502.4" y1="88.8" x2="502.4" y2="92.5" stroke="#3c3c3c" stroke-width="1"/>
<line x1="512.4" y1="90.1" x2="512.4" y2="91.6" stroke="#3c3c3c" stroke-width="0.8"/>
<line x1="522.4" y1="88.8" x2="522.4" y2="92.5" stroke="#3c3c3c" stroke-width="1"/>
<line x1="532.4" y1="90.1" x2="532.4" y2="91.6" stroke="#3c3c3c" stroke-width="0.8"/>
<line x1="542.4" y1="88.8" x2="542.4" y2="92.5" stroke="#3c3c3c" stroke-width="1"/>
<line x1="552.4" y1="90.1" x2="552.4" y2="91.6" stroke="#3c3c3c" stroke-width="0.8"/>
<line x1="562.4" y1="88.8" x2="562.4" y2="92.5" stroke="#3c3c3c" stroke-width="1"/>
<line x1="572.4" y1="90.1" x2="572.4" y2="91.6" stroke="#3c3c3c" stroke-width="0.8"/>
<line x1="582.4" y1="88.8" x2="582.4" y2="92.5" stroke="#3c3c3c" stroke-width="1"/>
<line x1="592.4" y1="90.1" x2="592.4" y2="91.6" stroke="#3c3c3c" stroke-width="0.8"/>
<line x1="602.4" y1="88.8" x2="602.4" y2="92.5" stroke="#3c3c3c" stroke-width="1"/>
<line x1="612.4" y1="90.1" x2="612.4" y2="91.6" stroke="#3c3c3c" stroke-width="0.8"/>
<line x1="622.4" y1="88.8" x2="622.4" y2="92.5" stroke="#3c3c3c" stroke-width="1"/>
<line x1="632.4" y1="90.1" x2="632.4" y2="91.6" stroke="#3c3c3c" stroke-width="0.8"/>
<line x1="642.4" y1="88.8" x2="642.4" y2="92.5" stroke="#3c3c3c" stroke-width="1"/>
<line x1="652.4" y1="90.1" x2="652.4" y2="91.6" stroke="#3c3c3c" stroke-width="0.8"/>
<line x1="662.4" y1="88.8" x2="662.4" y2="92.5" stroke="#3c3c3c" stroke-width="1"/>
<line x1="672.4" y1="90.1" x2="672.4" y2="91.6" stroke="#3c3c3c" stroke-width="0.8"/>
<line x1="682.4" y1="88.8" x2="682.4" y2="92.5" stroke="#3c3c3c" stroke-width="1"/>
<text x="482.4" y="100.4" font-size="7" fill="#3a3a3a" text-anchor="middle">0</text>
<text x="502.4" y="100.4" font-size="7" fill="#3a3a3a" text-anchor="middle">0.2</text>
<text x="522.4" y="100.4" font-size="7" fill="#3a3a3a" text-anchor="middle">0.4</text>
<text x="542.4" y="100.4" font-size="7" fill="#3a3a3a" text-anchor="middle">0.6</text>
<text x="562.4" y="100.4" font-size="7" fill="#3a3a3a" text-anchor="middle">0.8</text>
<text x="582.4" y="100.4" font-size="7" fill="#3a3a3a" text-anchor="middle">1</text>
<text x="602.4" y="100.4" font-size="7" fill="#3a3a3a" text-anchor="middle">1.2</text>
<text x="622.4" y="100.4" font-size="7" fill="#3a3a3a" text-anchor="middle">1.4</text>
<text x="642.4" y="100.4" font-size="7" fill="#3a3a3a" text-anchor="middle">1.6</text>
<text x="662.4" y="100.4" font-size="7" fill="#3a3a3a" text-anchor="middle">1.8</text>
<text x="682.4" y="100.4" font-size="7" fill="#3a3a3a" text-anchor="middle">2</text>
<text x="571.5" y="110.2" font-size="8" fill="#333" text-anchor="middle">time (s)</text>
<text transform="translate(462.8,57) rotate(-90)" font-size="8" fill="#333" font-style="italic">R/R<tspan font-size="5.2" dy="1.6">max</tspan></text>
<path d="M486.4,90.1 L488.7,90.1 L489.4,89.7 L490.4,88.8 L491.4,87.2 L492.4,85.2 L493.4,82.8 L493.8,81.3 L494.8,75.0 L496.1,64.6 L499.1,35.7 L500.8,22.0 L501.4,18.1 L502.4,13.6 L503.1,11.6 L504.1,9.4 L505.1,7.7 L506.1,6.7 L507.8,5.9 L509.8,5.4 L512.5,5.0 L515.1,4.8 L529.5,4.5 L588.6,4.5 L590.2,4.7 L592.2,5.0 L593.9,5.6 L595.6,6.4 L597.6,7.6 L598.3,8.2 L599.3,9.2 L601.3,11.8 L603.3,15.0 L604.3,17.0 L605.6,20.1 L612.3,36.8 L614.0,40.8 L616.6,46.8 L621.3,56.9 L623.0,59.9 L625.0,62.9 L627.3,65.8 L629.6,68.2 L631.3,69.7 L633.3,71.3 L637.3,74.3 L639.7,75.9 L642.7,77.6 L645.7,79.2 L648.7,80.6 L651.3,81.7 L654.7,83.0 L658.4,84.2 L662.7,85.4 L667.0,86.5 L670.7,87.3 L674.7,88.0 L678.7,88.6 L682.4,89.0" fill="none" stroke="#ff2a2a" stroke-width="0.9" stroke-linejoin="round"/>
<path d="M486.7,90.1 L489.1,90.0 L489.7,89.7 L490.7,88.8 L491.7,87.5 L492.8,85.7 L494.1,83.0 L494.4,81.8 L495.1,78.7 L498.4,59.6 L501.8,34.8 L502.4,30.6 L503.1,27.8 L505.1,21.2 L506.4,14.9 L507.4,12.2 L508.1,10.8 L508.8,9.7 L509.4,8.9 L510.4,8.0 L511.1,7.5 L512.1,6.9 L514.8,6.0 L517.5,5.4 L522.1,4.9 L526.1,4.7 L547.2,4.6 L582.6,4.5 L588.2,4.6 L589.6,4.7 L591.9,5.4 L593.3,5.9 L594.9,6.9 L596.6,8.1 L597.9,9.6 L600.3,13.3 L601.6,15.9 L602.9,19.1 L604.6,23.6 L607.6,33.2 L610.9,42.8 L613.6,48.9 L618.3,58.3 L620.6,62.5 L623.0,65.9 L625.3,68.8 L628.6,72.3 L630.6,74.0 L632.3,75.2 L634.7,76.7 L637.7,78.2 L641.0,79.7 L644.3,81.0 L654.0,84.3 L660.0,86.0 L667.4,87.6 L670.7,88.1 L675.1,88.7 L682.4,89.3" fill="none" stroke="#ff30ff" stroke-width="0.9" stroke-linejoin="round"/>
<path d="M487.1,90.1 L488.7,90.1 L489.4,90.0 L490.1,89.7 L491.1,88.9 L492.4,87.3 L493.8,85.2 L495.1,82.9 L495.8,81.1 L497.1,76.3 L498.4,70.2 L500.4,58.2 L503.1,46.3 L505.4,34.2 L507.8,23.4 L508.8,20.2 L510.1,17.1 L510.8,15.8 L511.8,14.3 L513.5,12.3 L514.8,11.1 L516.5,9.9 L518.8,8.4 L520.5,7.5 L521.8,7.0 L523.8,6.4 L525.5,6.1 L528.1,5.7 L532.8,5.2 L537.2,4.9 L554.2,4.7 L572.2,4.5 L584.6,4.5 L587.9,4.6 L588.9,4.7 L591.2,5.4 L593.3,6.2 L595.6,7.8 L596.9,9.1 L598.3,10.9 L599.6,13.1 L600.6,15.1 L601.6,17.3 L603.9,23.4 L606.9,33.0 L610.3,42.6 L611.6,45.9 L613.0,48.8 L617.6,58.2 L619.0,60.7 L620.3,63.0 L621.6,64.9 L623.3,67.2 L625.0,69.1 L627.0,71.2 L628.6,72.8 L630.3,74.2 L632.3,75.6 L634.7,77.0 L637.3,78.3 L640.3,79.7 L646.7,82.1 L656.4,85.2 L662.0,86.6 L668.7,87.9 L676.1,88.8 L682.4,89.4" fill="none" stroke="#30e030" stroke-width="0.9" stroke-linejoin="round"/>
<path d="M487.1,90.1 L489.1,90.1 L489.7,90.0 L490.4,89.7 L491.4,89.0 L492.4,88.0 L493.8,86.3 L495.8,83.3 L496.4,82.0 L497.1,80.3 L498.1,77.2 L500.4,68.9 L504.8,50.8 L506.1,45.7 L509.4,35.5 L511.4,27.5 L512.5,24.2 L513.8,20.6 L515.1,18.2 L516.1,16.7 L517.1,15.5 L519.8,12.6 L521.1,11.5 L522.8,10.4 L524.8,9.4 L526.8,8.6 L529.1,7.9 L531.8,7.2 L535.5,6.4 L538.5,6.0 L544.8,5.3 L551.2,5.0 L565.2,4.6 L578.6,4.5 L587.9,4.6 L588.9,4.7 L590.2,5.0 L592.6,5.8 L594.6,6.9 L596.3,8.1 L597.6,9.7 L599.9,13.4 L600.9,15.4 L601.9,17.6 L604.3,23.8 L607.3,33.4 L609.3,39.3 L610.6,43.0 L613.0,48.4 L617.3,57.2 L620.0,62.1 L621.3,64.2 L623.0,66.5 L624.6,68.5 L626.3,70.4 L628.3,72.3 L630.0,73.8 L632.0,75.3 L634.3,76.7 L637.0,78.1 L640.0,79.4 L643.0,80.7 L646.3,81.9 L656.0,85.0 L661.4,86.4 L668.4,87.8 L675.7,88.8 L682.4,89.4" fill="none" stroke="#30f0f0" stroke-width="0.9" stroke-linejoin="round"/>
<path d="M487.4,90.1 L489.7,90.0 L490.7,89.7 L491.7,89.1 L493.1,87.9 L494.4,86.4 L496.8,83.3 L497.4,82.2 L498.1,80.9 L499.1,78.4 L503.1,66.8 L505.1,60.6 L512.1,37.8 L513.8,33.3 L516.1,28.3 L517.5,25.9 L518.8,23.7 L520.1,21.8 L521.5,20.1 L523.1,18.4 L524.5,17.1 L526.1,15.7 L528.1,14.4 L530.1,13.2 L533.2,11.8 L535.8,10.6 L538.2,9.7 L541.5,8.6 L543.8,8.0 L550.8,6.7 L558.2,5.9 L568.9,5.1 L578.2,4.6 L582.2,4.5 L588.9,4.6 L590.2,4.8 L592.2,5.4 L594.3,6.3 L596.3,7.6 L597.3,8.4 L598.6,10.1 L600.9,13.9 L602.9,18.4 L604.9,23.7 L607.9,33.3 L611.3,42.9 L613.6,48.3 L617.6,56.4 L619.3,59.7 L620.6,62.1 L623.3,66.0 L624.6,67.7 L626.3,69.6 L628.3,71.7 L630.3,73.5 L632.3,75.0 L634.7,76.5 L637.3,77.9 L640.3,79.3 L646.3,81.6 L656.0,84.8 L661.0,86.2 L668.4,87.7 L675.7,88.7 L682.4,89.3" fill="none" stroke="#3030c8" stroke-width="0.9" stroke-linejoin="round"/>
<path d="M487.4,90.1 L489.4,90.1 L490.4,90.0 L491.4,89.6 L492.8,88.8 L494.4,87.3 L496.4,85.2 L498.4,82.9 L499.4,81.3 L501.4,77.2 L505.4,67.3 L507.4,61.6 L512.1,47.5 L515.1,39.2 L516.8,35.1 L519.1,30.5 L521.5,26.8 L524.1,23.3 L525.5,21.9 L527.1,20.3 L529.1,18.6 L531.1,17.1 L533.5,15.5 L536.2,14.0 L539.2,12.5 L542.2,11.1 L544.2,10.4 L547.2,9.5 L550.5,8.6 L553.9,7.9 L558.9,6.9 L562.9,6.3 L567.5,5.7 L577.6,5.1 L581.6,4.6 L582.9,4.5 L589.2,4.6 L590.6,4.8 L592.6,5.4 L594.6,6.3 L596.6,7.6 L597.6,8.5 L598.9,10.2 L601.3,14.0 L602.9,17.6 L605.3,23.8 L608.3,33.4 L610.3,39.3 L611.6,43.0 L614.0,48.4 L618.0,56.5 L619.6,59.7 L621.0,62.1 L623.6,66.0 L625.0,67.7 L626.6,69.6 L628.6,71.7 L630.6,73.5 L632.7,75.1 L635.0,76.5 L637.7,77.9 L640.7,79.3 L646.7,81.6 L656.4,84.8 L661.4,86.2 L668.7,87.7 L675.7,88.7 L682.4,89.3" fill="none" stroke="#b04040" stroke-width="0.9" stroke-linejoin="round"/>
<text x="450.3" y="13" font-size="17" fill="#000" font-weight="bold">c</text>
<line x1="38.85" y1="196.55" x2="38.85" y2="109.35" stroke="#3c3c3c" stroke-width="1"/>
<line x1="36.85" y1="194.25" x2="40.45" y2="194.25" stroke="#3c3c3c" stroke-width="1"/>
<line x1="37.85" y1="190" x2="39.85" y2="190" stroke="#3c3c3c" stroke-width="0.8"/>
<line x1="36.85" y1="185.76" x2="40.45" y2="185.76" stroke="#3c3c3c" stroke-width="1"/>
<line x1="37.85" y1="181.51" x2="39.85" y2="181.51" stroke="#3c3c3c" stroke-width="0.8"/>
<line x1="36.85" y1="177.27" x2="40.45" y2="177.27" stroke="#3c3c3c" stroke-width="1"/>
<line x1="37.85" y1="173.03" x2="39.85" y2="173.03" stroke="#3c3c3c" stroke-width="0.8"/>
<line x1="36.85" y1="168.78" x2="40.45" y2="168.78" stroke="#3c3c3c" stroke-width="1"/>
<line x1="37.85" y1="164.53" x2="39.85" y2="164.53" stroke="#3c3c3c" stroke-width="0.8"/>
<line x1="36.85" y1="160.29" x2="40.45" y2="160.29" stroke="#3c3c3c" stroke-width="1"/>
<line x1="37.85" y1="156.04" x2="39.85" y2="156.04" stroke="#3c3c3c" stroke-width="0.8"/>
<line x1="36.85" y1="151.8" x2="40.45" y2="151.8" stroke="#3c3c3c" stroke-width="1"/>
<line x1="37.85" y1="147.56" x2="39.85" y2="147.56" stroke="#3c3c3c" stroke-width="0.8"/>
<line x1="36.85" y1="143.31" x2="40.45" y2="143.31" stroke="#3c3c3c" stroke-width="1"/>
<line x1="37.85" y1="139.06" x2="39.85" y2="139.06" stroke="#3c3c3c" stroke-width="0.8"/>
<line x1="36.85" y1="134.82" x2="40.45" y2="134.82" stroke="#3c3c3c" stroke-width="1"/>
<line x1="37.85" y1="130.57" x2="39.85" y2="130.57" stroke="#3c3c3c" stroke-width="0.8"/>
<line x1="36.85" y1="126.33" x2="40.45" y2="126.33" stroke="#3c3c3c" stroke-width="1"/>
<line x1="37.85" y1="122.08" x2="39.85" y2="122.08" stroke="#3c3c3c" stroke-width="0.8"/>
<line x1="36.85" y1="117.84" x2="40.45" y2="117.84" stroke="#3c3c3c" stroke-width="1"/>
<line x1="37.85" y1="113.59" x2="39.85" y2="113.59" stroke="#3c3c3c" stroke-width="0.8"/>
<line x1="36.85" y1="109.35" x2="40.45" y2="109.35" stroke="#3c3c3c" stroke-width="1"/>
<text x="33.65" y="196.75" font-size="7" fill="#3a3a3a" text-anchor="end">0</text>
<text x="33.65" y="179.77" font-size="7" fill="#3a3a3a" text-anchor="end">0.2</text>
<text x="33.65" y="162.79" font-size="7" fill="#3a3a3a" text-anchor="end">0.4</text>
<text x="33.65" y="145.81" font-size="7" fill="#3a3a3a" text-anchor="end">0.6</text>
<text x="33.65" y="128.83" font-size="7" fill="#3a3a3a" text-anchor="end">0.8</text>
<text x="33.65" y="111.85" font-size="7" fill="#3a3a3a" text-anchor="end">1</text>
<line x1="36.85" y1="194.25" x2="236.85" y2="194.25" stroke="#3c3c3c" stroke-width="1"/>
<line x1="38.85" y1="192.95" x2="38.85" y2="196.65" stroke="#3c3c3c" stroke-width="1"/>
<line x1="48.75" y1="194.25" x2="48.75" y2="195.75" stroke="#3c3c3c" stroke-width="0.8"/>
<line x1="58.65" y1="192.95" x2="58.65" y2="196.65" stroke="#3c3c3c" stroke-width="1"/>
<line x1="68.55" y1="194.25" x2="68.55" y2="195.75" stroke="#3c3c3c" stroke-width="0.8"/>
<line x1="78.45" y1="192.95" x2="78.45" y2="196.65" stroke="#3c3c3c" stroke-width="1"/>
<line x1="88.35" y1="194.25" x2="88.35" y2="195.75" stroke="#3c3c3c" stroke-width="0.8"/>
<line x1="98.25" y1="192.95" x2="98.25" y2="196.65" stroke="#3c3c3c" stroke-width="1"/>
<line x1="108.15" y1="194.25" x2="108.15" y2="195.75" stroke="#3c3c3c" stroke-width="0.8"/>
<line x1="118.05" y1="192.95" x2="118.05" y2="196.65" stroke="#3c3c3c" stroke-width="1"/>
<line x1="127.95" y1="194.25" x2="127.95" y2="195.75" stroke="#3c3c3c" stroke-width="0.8"/>
<line x1="137.85" y1="192.95" x2="137.85" y2="196.65" stroke="#3c3c3c" stroke-width="1"/>
<line x1="147.75" y1="194.25" x2="147.75" y2="195.75" stroke="#3c3c3c" stroke-width="0.8"/>
<line x1="157.65" y1="192.95" x2="157.65" y2="196.65" stroke="#3c3c3c" stroke-width="1"/>
<line x1="167.55" y1="194.25" x2="167.55" y2="195.75" stroke="#3c3c3c" stroke-width="0.8"/>
<line x1="177.45" y1="192.95" x2="177.45" y2="196.65" stroke="#3c3c3c" stroke-width="1"/>
<line x1="187.35" y1="194.25" x2="187.35" y2="195.75" stroke="#3c3c3c" stroke-width="0.8"/>
<line x1="197.25" y1="192.95" x2="197.25" y2="196.65" stroke="#3c3c3c" stroke-width="1"/>
<line x1="207.15" y1="194.25" x2="207.15" y2="195.75" stroke="#3c3c3c" stroke-width="0.8"/>
<line x1="217.05" y1="192.95" x2="217.05" y2="196.65" stroke="#3c3c3c" stroke-width="1"/>
<line x1="226.95" y1="194.25" x2="226.95" y2="195.75" stroke="#3c3c3c" stroke-width="0.8"/>
<line x1="236.85" y1="192.95" x2="236.85" y2="196.65" stroke="#3c3c3c" stroke-width="1"/>
<text x="38.85" y="204.55" font-size="7" fill="#3a3a3a" text-anchor="middle">0</text>
<text x="58.65" y="204.55" font-size="7" fill="#3a3a3a" text-anchor="middle">0.2</text>
<text x="78.45" y="204.55" font-size="7" fill="#3a3a3a" text-anchor="middle">0.4</text>
<text x="98.25" y="204.55" font-size="7" fill="#3a3a3a" text-anchor="middle">0.6</text>
<text x="118.05" y="204.55" font-size="7" fill="#3a3a3a" text-anchor="middle">0.8</text>
<text x="137.85" y="204.55" font-size="7" fill="#3a3a3a" text-anchor="middle">1</text>
<text x="157.65" y="204.55" font-size="7" fill="#3a3a3a" text-anchor="middle">1.2</text>
<text x="177.45" y="204.55" font-size="7" fill="#3a3a3a" text-anchor="middle">1.4</text>
<text x="197.25" y="204.55" font-size="7" fill="#3a3a3a" text-anchor="middle">1.6</text>
<text x="217.05" y="204.55" font-size="7" fill="#3a3a3a" text-anchor="middle">1.8</text>
<text x="236.85" y="204.55" font-size="7" fill="#3a3a3a" text-anchor="middle">2</text>
<text x="124.7" y="214" font-size="8" fill="#333" text-anchor="middle">time (s)</text>
<text transform="translate(19.4,171) rotate(-90)" font-size="8" fill="#333" font-style="italic">R/R<tspan font-size="7" dy="2.4">max</tspan></text>
<path d="M43.8,194.2 L44.5,193.9 L45.3,193.4 L46.0,192.5 L46.5,191.5 L47.5,188.7 L48.5,184.4 L49.2,179.9 L50.2,172.4 L52.7,148.7 L53.9,138.5 L55.2,130.8 L55.9,127.4 L56.7,124.8 L57.4,122.7 L58.4,120.8 L59.6,119.2 L60.9,118.3 L62.4,117.6 L64.1,117.2 L66.1,117.1 L69.3,117.0 L128.0,117.0 L134.4,117.1 L138.6,117.4 L142.3,117.9 L145.8,118.8 L148.7,120.0 L151.7,121.6 L154.2,123.4 L156.4,125.7 L158.9,128.8 L161.1,132.3 L163.3,136.3 L166.3,142.2 L172.7,155.8 L175.0,160.0 L177.2,163.8 L180.2,168.2 L183.1,172.0 L186.4,175.5 L189.8,178.6 L191.8,180.2 L194.0,181.7 L196.3,183.1 L198.5,184.4 L201.0,185.6 L203.4,186.6 L208.6,188.5 L214.6,190.0 L221.0,191.2 L228.4,192.2 L236.8,192.9" fill="none" stroke="#2a2a2a" stroke-width="0.8" stroke-linejoin="round"/>
<path d="M44.3,194.2 L45.3,193.8 L46.0,193.4 L46.8,192.6 L47.3,191.9 L48.0,190.5 L48.5,189.2 L49.5,185.9 L50.2,182.6 L51.0,178.5 L54.4,155.4 L56.2,145.5 L57.2,140.9 L58.4,136.3 L59.4,133.3 L60.6,130.5 L61.9,128.4 L63.4,126.6 L64.8,125.5 L66.6,124.6 L68.5,124.1 L71.3,123.8 L74.7,123.6 L79.9,123.5 L128.0,123.5 L133.9,123.6 L137.6,123.9 L140.8,124.4 L143.3,125.1 L146.0,126.1 L149.0,127.7 L151.7,129.6 L154.2,131.8 L156.4,134.4 L158.9,137.9 L161.4,141.8 L163.3,145.3 L171.0,159.5 L173.5,163.7 L175.7,167.1 L178.7,171.0 L181.7,174.4 L184.9,177.5 L188.3,180.3 L190.3,181.7 L192.5,183.1 L194.8,184.3 L197.2,185.5 L199.7,186.6 L202.2,187.5 L207.6,189.2 L213.8,190.6 L220.5,191.7 L228.2,192.6 L236.8,193.2" fill="none" stroke="#2a2a2a" stroke-width="0.8" stroke-linejoin="round"/>
<path d="M44.8,194.1 L45.8,193.9 L46.5,193.6 L47.8,192.6 L48.5,191.7 L49.0,190.9 L50.2,188.2 L51.0,185.9 L52.0,182.3 L56.4,162.9 L57.9,157.1 L59.1,153.0 L60.6,148.7 L62.1,145.2 L63.6,142.5 L65.3,140.0 L66.3,138.9 L67.3,138.0 L69.3,136.6 L71.8,135.5 L74.7,134.7 L78.0,134.2 L82.2,133.8 L87.6,133.7 L96.0,133.6 L129.4,133.5 L135.1,133.6 L138.1,133.9 L140.8,134.3 L143.3,134.9 L145.5,135.7 L148.2,137.0 L150.7,138.6 L153.2,140.6 L155.7,143.1 L157.9,145.7 L160.4,149.1 L162.8,152.8 L170.5,164.7 L173.0,168.2 L175.2,171.1 L178.2,174.5 L181.2,177.3 L184.4,180.0 L187.8,182.4 L192.1,184.7 L196.8,186.8 L201.7,188.5 L207.4,190.0 L213.6,191.2 L220.3,192.1 L227.9,192.8 L236.8,193.4" fill="none" stroke="#2a2a2a" stroke-width="0.8" stroke-linejoin="round"/>
<path d="M45.5,194.1 L47.0,193.8 L48.5,193.0 L49.7,191.8 L50.7,190.4 L51.7,188.6 L53.0,185.8 L57.4,174.0 L59.1,169.7 L60.6,166.4 L62.1,163.4 L64.1,160.0 L66.3,157.0 L68.5,154.7 L71.0,152.8 L72.5,151.9 L74.0,151.1 L77.2,149.8 L80.9,148.9 L85.1,148.2 L90.1,147.7 L96.3,147.4 L104.2,147.2 L116.1,147.2 L133.6,147.1 L139.3,147.3 L142.1,147.5 L144.3,147.9 L146.5,148.4 L148.5,149.1 L151.0,150.2 L153.2,151.4 L155.7,153.1 L157.9,155.0 L159.6,156.6 L161.9,159.0 L171.8,170.8 L174.5,173.8 L176.7,176.0 L179.7,178.6 L182.6,180.9 L185.9,183.0 L189.1,184.8 L193.3,186.7 L197.7,188.2 L202.7,189.6 L208.1,190.8 L214.1,191.7 L220.8,192.5 L228.2,193.0 L236.8,193.5" fill="none" stroke="#2a2a2a" stroke-width="0.8" stroke-linejoin="round"/>
<path d="M46.5,194.1 L48.3,193.7 L49.5,193.2 L50.7,192.3 L52.0,191.1 L54.2,188.3 L58.9,181.3 L61.1,178.2 L63.6,175.2 L66.1,172.7 L68.5,170.7 L71.0,169.0 L73.7,167.6 L76.7,166.3 L80.7,165.1 L84.9,164.1 L89.6,163.4 L95.3,162.9 L101.7,162.5 L109.6,162.2 L133.6,162.0 L141.1,162.1 L143.8,162.3 L146.0,162.6 L148.2,163.0 L150.2,163.5 L152.5,164.3 L154.4,165.1 L157.9,166.9 L161.1,169.0 L164.3,171.5 L172.7,178.4 L175.7,180.6 L178.4,182.4 L181.4,184.1 L184.6,185.7 L188.1,187.1 L191.8,188.4 L195.8,189.5 L200.2,190.5 L204.9,191.3 L210.1,192.0 L215.8,192.6 L222.0,193.1 L228.9,193.4 L236.8,193.7" fill="none" stroke="#2a2a2a" stroke-width="0.8" stroke-linejoin="round"/>
<path d="M47.5,194.1 L49.0,193.8 L50.2,193.5 L51.2,193.1 L52.5,192.4 L54.9,190.6 L59.9,186.6 L62.4,184.7 L64.8,183.1 L67.3,181.7 L70.0,180.4 L73.0,179.2 L76.2,178.2 L79.4,177.4 L83.6,176.6 L88.1,175.9 L93.3,175.4 L99.2,175.0 L105.9,174.6 L113.8,174.4 L135.4,174.2 L141.3,174.3 L146.0,174.6 L150.0,175.2 L153.9,176.2 L157.2,177.3 L160.4,178.6 L171.5,184.2 L174.5,185.6 L177.2,186.7 L180.4,187.9 L183.6,188.9 L187.1,189.8 L190.8,190.6 L194.8,191.3 L199.2,191.9 L204.2,192.4 L209.4,192.9 L221.5,193.5 L236.8,193.9" fill="none" stroke="#2a2a2a" stroke-width="0.8" stroke-linejoin="round"/>
<path d="M43.8,194.2 L44.5,193.9 L45.3,193.4 L46.0,192.5 L46.5,191.5 L47.5,188.7 L48.5,184.4 L49.2,179.9 L50.2,172.4 L52.7,148.7 L53.9,138.5 L55.2,130.8 L55.9,127.4 L56.7,124.8 L57.4,122.7 L58.4,120.8 L59.6,119.2 L60.9,118.3 L62.4,117.6 L64.1,117.2 L66.1,117.1 L69.3,117.0 L128.0,117.0 L134.4,117.1 L138.6,117.4 L142.3,117.9 L145.8,118.8 L148.7,120.0 L151.7,121.6 L154.2,123.4 L156.4,125.7 L158.9,128.8 L161.1,132.3 L163.3,136.3 L166.3,142.2 L172.7,155.8 L175.0,160.0 L177.2,163.8 L180.2,168.2 L183.1,172.0 L186.4,175.5 L189.8,178.6 L191.8,180.2 L194.0,181.7 L196.3,183.1 L198.5,184.4 L201.0,185.6 L203.4,186.6 L208.6,188.5 L214.6,190.0 L221.0,191.2 L228.4,192.2 L236.8,192.9" fill="none" stroke="#ff2a2a" stroke-width="0.7" stroke-linejoin="round" stroke-dasharray="1,2.4"/>
<path d="M44.3,194.2 L45.3,193.8 L46.0,193.4 L46.8,192.6 L47.3,191.9 L48.0,190.5 L48.5,189.2 L49.5,185.9 L50.2,182.6 L51.0,178.5 L54.4,155.4 L56.2,145.5 L57.2,140.9 L58.4,136.3 L59.4,133.3 L60.6,130.5 L61.9,128.4 L63.4,126.6 L64.8,125.5 L66.6,124.6 L68.5,124.1 L71.3,123.8 L74.7,123.6 L79.9,123.5 L128.0,123.5 L133.9,123.6 L137.6,123.9 L140.8,124.4 L143.3,125.1 L146.0,126.1 L149.0,127.7 L151.7,129.6 L154.2,131.8 L156.4,134.4 L158.9,137.9 L161.4,141.8 L163.3,145.3 L171.0,159.5 L173.5,163.7 L175.7,167.1 L178.7,171.0 L181.7,174.4 L184.9,177.5 L188.3,180.3 L190.3,181.7 L192.5,183.1 L194.8,184.3 L197.2,185.5 L199.7,186.6 L202.2,187.5 L207.6,189.2 L213.8,190.6 L220.5,191.7 L228.2,192.6 L236.8,193.2" fill="none" stroke="#ff30ff" stroke-width="0.7" stroke-linejoin="round" stroke-dasharray="1,2.4"/>
<path d="M44.8,194.1 L45.8,193.9 L46.5,193.6 L47.8,192.6 L48.5,191.7 L49.0,190.9 L50.2,188.2 L51.0,185.9 L52.0,182.3 L56.4,162.9 L57.9,157.1 L59.1,153.0 L60.6,148.7 L62.1,145.2 L63.6,142.5 L65.3,140.0 L66.3,138.9 L67.3,138.0 L69.3,136.6 L71.8,135.5 L74.7,134.7 L78.0,134.2 L82.2,133.8 L87.6,133.7 L96.0,133.6 L129.4,133.5 L135.1,133.6 L138.1,133.9 L140.8,134.3 L143.3,134.9 L145.5,135.7 L148.2,137.0 L150.7,138.6 L153.2,140.6 L155.7,143.1 L157.9,145.7 L160.4,149.1 L162.8,152.8 L170.5,164.7 L173.0,168.2 L175.2,171.1 L178.2,174.5 L181.2,177.3 L184.4,180.0 L187.8,182.4 L192.1,184.7 L196.8,186.8 L201.7,188.5 L207.4,190.0 L213.6,191.2 L220.3,192.1 L227.9,192.8 L236.8,193.4" fill="none" stroke="#30e030" stroke-width="0.7" stroke-linejoin="round" stroke-dasharray="1,2.4"/>
<path d="M45.5,194.1 L47.0,193.8 L48.5,193.0 L49.7,191.8 L50.7,190.4 L51.7,188.6 L53.0,185.8 L57.4,174.0 L59.1,169.7 L60.6,166.4 L62.1,163.4 L64.1,160.0 L66.3,157.0 L68.5,154.7 L71.0,152.8 L72.5,151.9 L74.0,151.1 L77.2,149.8 L80.9,148.9 L85.1,148.2 L90.1,147.7 L96.3,147.4 L104.2,147.2 L116.1,147.2 L133.6,147.1 L139.3,147.3 L142.1,147.5 L144.3,147.9 L146.5,148.4 L148.5,149.1 L151.0,150.2 L153.2,151.4 L155.7,153.1 L157.9,155.0 L159.6,156.6 L161.9,159.0 L171.8,170.8 L174.5,173.8 L176.7,176.0 L179.7,178.6 L182.6,180.9 L185.9,183.0 L189.1,184.8 L193.3,186.7 L197.7,188.2 L202.7,189.6 L208.1,190.8 L214.1,191.7 L220.8,192.5 L228.2,193.0 L236.8,193.5" fill="none" stroke="#30f0f0" stroke-width="0.7" stroke-linejoin="round" stroke-dasharray="1,2.4"/>
<path d="M46.5,194.1 L48.3,193.7 L49.5,193.2 L50.7,192.3 L52.0,191.1 L54.2,188.3 L58.9,181.3 L61.1,178.2 L63.6,175.2 L66.1,172.7 L68.5,170.7 L71.0,169.0 L73.7,167.6 L76.7,166.3 L80.7,165.1 L84.9,164.1 L89.6,163.4 L95.3,162.9 L101.7,162.5 L109.6,162.2 L133.6,162.0 L141.1,162.1 L143.8,162.3 L146.0,162.6 L148.2,163.0 L150.2,163.5 L152.5,164.3 L154.4,165.1 L157.9,166.9 L161.1,169.0 L164.3,171.5 L172.7,178.4 L175.7,180.6 L178.4,182.4 L181.4,184.1 L184.6,185.7 L188.1,187.1 L191.8,188.4 L195.8,189.5 L200.2,190.5 L204.9,191.3 L210.1,192.0 L215.8,192.6 L222.0,193.1 L228.9,193.4 L236.8,193.7" fill="none" stroke="#3030c8" stroke-width="0.7" stroke-linejoin="round" stroke-dasharray="1,2.4"/>
<path d="M47.5,194.1 L49.0,193.8 L50.2,193.5 L51.2,193.1 L52.5,192.4 L54.9,190.6 L59.9,186.6 L62.4,184.7 L64.8,183.1 L67.3,181.7 L70.0,180.4 L73.0,179.2 L76.2,178.2 L79.4,177.4 L83.6,176.6 L88.1,175.9 L93.3,175.4 L99.2,175.0 L105.9,174.6 L113.8,174.4 L135.4,174.2 L141.3,174.3 L146.0,174.6 L150.0,175.2 L153.9,176.2 L157.2,177.3 L160.4,178.6 L171.5,184.2 L174.5,185.6 L177.2,186.7 L180.4,187.9 L183.6,188.9 L187.1,189.8 L190.8,190.6 L194.8,191.3 L199.2,191.9 L204.2,192.4 L209.4,192.9 L221.5,193.5 L236.8,193.9" fill="none" stroke="#b03030" stroke-width="0.7" stroke-linejoin="round" stroke-dasharray="1,2.4"/>
<text x="-0.4" y="117.7" font-size="17" fill="#000" font-weight="bold">d</text>
<line x1="272.4" y1="116" x2="428.4" y2="116" stroke="#9a9a9a" stroke-width="1.6"/>
<line x1="428.4" y1="207.3" x2="428.4" y2="116" stroke="#8a8a8a" stroke-width="1.3"/>
<line x1="272.4" y1="207.8" x2="272.4" y2="115.5" stroke="#333" stroke-width="1"/>
<line x1="270.9" y1="207.3" x2="428.4" y2="207.3" stroke="#333" stroke-width="1"/>
<line x1="270.6" y1="207.3" x2="272.4" y2="207.3" stroke="#333" stroke-width="1"/>
<line x1="428.4" y1="207.3" x2="430.2" y2="207.3" stroke="#555" stroke-width="1"/>
<text x="270" y="209.4" font-size="6.3" fill="#333" text-anchor="end">0.0</text>
<text x="430.4" y="209.4" font-size="6.3" fill="#333">0.0</text>
<line x1="270.6" y1="189.04" x2="272.4" y2="189.04" stroke="#333" stroke-width="1"/>
<line x1="428.4" y1="189.04" x2="430.2" y2="189.04" stroke="#555" stroke-width="1"/>
<text x="270" y="191.14" font-size="6.3" fill="#333" text-anchor="end">0.2</text>
<text x="430.4" y="191.14" font-size="6.3" fill="#333">0.2</text>
<line x1="270.6" y1="170.78" x2="272.4" y2="170.78" stroke="#333" stroke-width="1"/>
<line x1="428.4" y1="170.78" x2="430.2" y2="170.78" stroke="#555" stroke-width="1"/>
<text x="270" y="172.88" font-size="6.3" fill="#333" text-anchor="end">0.4</text>
<text x="430.4" y="172.88" font-size="6.3" fill="#333">0.4</text>
<line x1="270.6" y1="152.52" x2="272.4" y2="152.52" stroke="#333" stroke-width="1"/>
<line x1="428.4" y1="152.52" x2="430.2" y2="152.52" stroke="#555" stroke-width="1"/>
<text x="270" y="154.62" font-size="6.3" fill="#333" text-anchor="end">0.6</text>
<text x="430.4" y="154.62" font-size="6.3" fill="#333">0.6</text>
<line x1="270.6" y1="134.26" x2="272.4" y2="134.26" stroke="#333" stroke-width="1"/>
<line x1="428.4" y1="134.26" x2="430.2" y2="134.26" stroke="#555" stroke-width="1"/>
<text x="270" y="136.36" font-size="6.3" fill="#333" text-anchor="end">0.8</text>
<text x="430.4" y="136.36" font-size="6.3" fill="#333">0.8</text>
<line x1="270.6" y1="116" x2="272.4" y2="116" stroke="#333" stroke-width="1"/>
<line x1="428.4" y1="116" x2="430.2" y2="116" stroke="#555" stroke-width="1"/>
<text x="270" y="118.1" font-size="6.3" fill="#333" text-anchor="end">1.0</text>
<text x="430.4" y="118.1" font-size="6.3" fill="#333">1.0</text>
<line x1="272.4" y1="207.3" x2="272.4" y2="209.1" stroke="#333" stroke-width="1"/>
<text x="272.4" y="216" font-size="6.3" fill="#333" text-anchor="middle">0.0</text>
<line x1="303.6" y1="207.3" x2="303.6" y2="209.1" stroke="#333" stroke-width="1"/>
<text x="303.6" y="216" font-size="6.3" fill="#333" text-anchor="middle">0.5</text>
<line x1="334.8" y1="207.3" x2="334.8" y2="209.1" stroke="#333" stroke-width="1"/>
<text x="334.8" y="216" font-size="6.3" fill="#333" text-anchor="middle">1.0</text>
<line x1="366" y1="207.3" x2="366" y2="209.1" stroke="#333" stroke-width="1"/>
<text x="366" y="216" font-size="6.3" fill="#333" text-anchor="middle">1.5</text>
<line x1="397.2" y1="207.3" x2="397.2" y2="209.1" stroke="#333" stroke-width="1"/>
<text x="397.2" y="216" font-size="6.3" fill="#333" text-anchor="middle">2.0</text>
<line x1="428.4" y1="207.3" x2="428.4" y2="209.1" stroke="#333" stroke-width="1"/>
<text x="428.4" y="216" font-size="6.3" fill="#333" text-anchor="middle">2.5</text>
<text x="350.1" y="226" font-size="8" fill="#333" text-anchor="middle">time (s)</text>
<text transform="translate(256.6,173.8) rotate(-90) scale(0.82,1)" font-size="10.8" fill="#333" font-style="italic">R/R<tspan font-size="8" dy="2">max</tspan></text>
<text transform="translate(440.2,151.5) rotate(90)" font-size="10.4" fill="#333" font-style="italic" textLength="16.6" lengthAdjust="spacingAndGlyphs">MTL</text>
<path d="M272.4,120.6 L305.9,120.6 L306.8,120.7 L307.7,121.0 L311.2,122.5 L312.4,123.2 L314.0,124.1 L319.9,128.3 L323.7,131.4 L326.2,133.9 L327.7,136.0 L329.0,138.3 L330.5,141.7 L332.1,146.0 L332.7,147.5 L334.3,149.8 L335.6,151.2 L336.5,151.9 L337.1,152.2 L339.6,152.7 L341.8,152.9 L350.6,152.8 L352.4,152.7 L353.7,152.4 L355.2,151.9 L359.6,150.0 L361.5,148.9 L364.0,147.1 L368.7,143.1 L373.4,138.7 L375.9,136.8 L379.3,134.7 L384.0,132.3 L387.4,130.7 L390.6,129.5 L394.0,128.6 L397.8,127.7 L400.9,127.2 L404.6,126.7 L409.3,126.2 L414.3,125.8 L422.1,125.4 L428.4,125.1" fill="none" stroke="#1a1a1a" stroke-width="1.2" stroke-linejoin="round" stroke-dasharray="2.7,2.0"/>
<path d="M272.4,146.4 L293.7,146.4 L295.2,146.7 L296.8,147.1 L297.7,147.5 L298.3,148.0 L299.6,149.7 L300.5,151.3 L301.5,153.7 L302.4,156.8 L304.0,164.5 L305.2,171.3 L307.4,185.4 L308.4,189.0 L309.0,190.8 L309.6,191.9 L310.5,192.8 L311.5,193.6 L312.7,194.3 L314.3,194.8 L316.8,195.4 L318.7,195.7 L320.5,195.7 L340.9,195.9 L351.2,195.6 L354.6,195.4 L356.2,195.2 L358.4,194.6 L360.6,193.8 L363.1,192.6 L364.0,192.1 L365.6,190.8 L367.1,189.3 L369.0,187.0 L370.9,184.6 L372.1,182.5 L375.6,176.2 L377.1,173.9 L379.0,171.5 L381.5,168.6 L384.9,165.1 L387.4,162.9 L389.9,161.1 L393.7,158.9 L399.6,155.9 L403.4,154.4 L407.8,152.9 L412.1,151.8 L417.1,150.8 L423.1,150.0 L428.4,149.4" fill="none" stroke="#1a1aff" stroke-width="1.2" stroke-linejoin="round" stroke-dasharray="2.7,2.0"/>
<path d="M272.4,192.6 L290.8,192.6 L292.4,192.8 L294.0,193.3 L295.2,193.7 L295.8,194.1 L297.4,195.5 L299.0,197.3 L301.5,201.0 L303.3,203.3 L304.3,204.3 L305.2,204.8 L306.8,205.3 L308.4,205.7 L310.9,206.0 L317.7,206.2 L328.7,206.3 L341.2,206.4 L358.1,206.2 L362.1,205.9 L366.5,205.4 L368.1,205.1 L369.6,204.6 L375.3,202.4 L382.4,199.3 L389.6,196.4 L391.8,195.7 L396.2,194.7 L401.5,193.8 L410.6,192.8 L418.7,192.5 L428.4,192.3" fill="none" stroke="#ff1a1a" stroke-width="1.2" stroke-linejoin="round" stroke-dasharray="2.7,2.0"/>
<path d="M272.4,207.3 L299.9,207.3 L300.8,206.9 L302.1,206.0 L303.3,204.6 L304.6,203.0 L306.2,200.8 L307.4,198.4 L309.0,194.6 L311.5,187.8 L313.4,181.9 L315.5,174.4 L318.4,162.9 L319.3,159.5 L320.5,155.8 L323.4,148.1 L326.2,139.4 L327.4,135.8 L329.3,131.1 L330.5,128.5 L332.7,125.2 L333.7,124.2 L334.3,123.8 L336.5,123.4 L338.7,123.2 L343.4,123.1 L357.1,123.1 L359.0,123.3 L360.9,123.6 L365.6,124.9 L367.8,126.0 L372.4,129.1 L379.9,135.1 L384.9,139.2 L387.4,141.1 L390.6,143.1 L394.6,145.4 L404.0,150.2 L406.8,151.6 L409.3,152.6 L412.5,153.8 L416.2,155.0 L423.1,157.1 L428.4,158.5" fill="none" stroke="#1a1a1a" stroke-width="1.15" stroke-linejoin="round"/>
<path d="M272.4,207.3 L291.2,207.3 L292.4,207.2 L294.6,206.4 L295.2,206.2 L295.8,205.7 L296.8,204.6 L298.0,202.5 L299.0,200.4 L299.9,196.5 L301.2,189.7 L302.1,183.1 L303.0,175.4 L304.0,166.3 L304.6,159.0 L305.2,149.1 L305.9,141.8 L306.5,136.2 L307.4,130.7 L308.0,128.2 L308.4,127.3 L309.3,125.8 L310.2,124.6 L310.9,124.1 L311.5,123.8 L313.0,123.5 L314.9,123.3 L321.8,123.1 L357.4,123.1 L359.9,123.5 L363.4,124.4 L365.2,125.1 L367.4,126.3 L368.7,127.2 L370.3,128.8 L372.8,132.0 L374.6,134.8 L383.4,150.3 L384.9,153.3 L387.4,158.6 L388.7,160.7 L390.3,162.8 L399.3,174.0 L402.1,176.9 L405.6,180.1 L410.0,183.8 L414.0,187.0 L417.1,189.2 L421.2,191.7 L425.0,193.8 L428.4,195.4" fill="none" stroke="#1a1aff" stroke-width="1.15" stroke-linejoin="round"/>
<path d="M272.4,207.3 L286.5,207.3 L287.7,207.2 L288.7,206.9 L289.9,206.3 L292.1,205.0 L293.0,204.1 L294.0,202.8 L295.2,200.1 L296.2,197.5 L297.1,192.8 L298.0,186.4 L298.7,181.1 L299.6,171.0 L300.8,151.9 L301.5,144.1 L302.4,136.6 L303.0,133.7 L304.0,130.4 L304.6,128.8 L305.9,126.7 L307.1,125.2 L308.0,124.5 L310.2,123.8 L312.4,123.3 L313.7,123.2 L320.2,123.1 L357.4,123.1 L359.9,123.6 L363.4,124.6 L365.6,125.7 L367.8,127.2 L368.7,128.0 L369.6,129.0 L372.1,132.4 L374.0,135.5 L375.9,139.2 L377.4,142.9 L379.0,147.1 L380.6,151.6 L383.1,159.6 L386.5,167.3 L389.3,175.1 L390.6,178.3 L393.1,183.8 L394.9,187.4 L396.5,190.0 L399.0,193.5 L401.2,196.1 L403.4,198.2 L405.3,199.6 L407.1,200.9 L409.0,202.0 L410.6,202.8 L412.1,203.4 L414.0,204.0 L418.1,205.0 L423.7,205.9 L428.4,206.5" fill="none" stroke="#ff1a1a" stroke-width="1.15" stroke-linejoin="round"/>
<text x="236.8" y="118.3" font-size="17" fill="#000" font-weight="bold">e</text>
<line x1="495" y1="206.5" x2="495" y2="113.2" stroke="#666" stroke-width="1"/>
<line x1="492.7" y1="206.5" x2="495" y2="206.5" stroke="#333" stroke-width="1"/>
<text x="491.4" y="208.77" font-size="6.3" fill="#111" text-anchor="end">0.8</text>
<line x1="492.7" y1="183.18" x2="495" y2="183.18" stroke="#333" stroke-width="1"/>
<text x="491.4" y="185.44" font-size="6.3" fill="#111" text-anchor="end">0.9</text>
<line x1="492.7" y1="159.85" x2="495" y2="159.85" stroke="#333" stroke-width="1"/>
<text x="491.4" y="162.12" font-size="6.3" fill="#111" text-anchor="end">1.0</text>
<line x1="492.7" y1="136.52" x2="495" y2="136.52" stroke="#333" stroke-width="1"/>
<text x="491.4" y="138.79" font-size="6.3" fill="#111" text-anchor="end">1.1</text>
<line x1="492.7" y1="113.2" x2="495" y2="113.2" stroke="#333" stroke-width="1"/>
<text x="491.4" y="115.47" font-size="6.3" fill="#111" text-anchor="end">1.2</text>
<line x1="492.4" y1="206.5" x2="679.98" y2="206.5" stroke="#222" stroke-width="1"/>
<line x1="495.2" y1="206.5" x2="495.2" y2="209.3" stroke="#222" stroke-width="1"/>
<text x="495.2" y="216" font-size="6.3" fill="#111" text-anchor="middle">8</text>
<line x1="541.27" y1="206.5" x2="541.27" y2="209.3" stroke="#222" stroke-width="1"/>
<text x="541.27" y="216" font-size="6.3" fill="#111" text-anchor="middle">16</text>
<line x1="587.34" y1="206.5" x2="587.34" y2="209.3" stroke="#222" stroke-width="1"/>
<text x="587.34" y="216" font-size="6.3" fill="#111" text-anchor="middle">32</text>
<line x1="633.41" y1="206.5" x2="633.41" y2="209.3" stroke="#222" stroke-width="1"/>
<text x="633.41" y="216" font-size="6.3" fill="#111" text-anchor="middle">64</text>
<line x1="679.48" y1="206.5" x2="679.48" y2="209.3" stroke="#222" stroke-width="1"/>
<text x="679.48" y="216" font-size="6.3" fill="#111" text-anchor="middle">128</text>
<line x1="496" y1="160.5" x2="679.5" y2="160.5" stroke="#555" stroke-width="1" stroke-dasharray="1,1.2"/>
<path d="M516.3,167.7 L555.9,163.8 L589.5,148.2 L616.5,148.2 L636.0,141.0" fill="none" stroke="#ff2a2a" stroke-width="0.9" stroke-linejoin="round"/>
<path d="M516.3,188.3 L555.9,182.5 L589.5,148.2 L616.5,134.2 L636.0,145.9" fill="none" stroke="#5a5aff" stroke-width="0.7" stroke-linejoin="round"/>
<line x1="555.9" y1="177.4" x2="555.9" y2="186.7" stroke="#3a2a2a" stroke-width="0.9"/>
<line x1="554.3" y1="177.4" x2="557.5" y2="177.4" stroke="#3a2a2a" stroke-width="0.9"/>
<line x1="554.3" y1="186.7" x2="557.5" y2="186.7" stroke="#3a2a2a" stroke-width="0.9"/>
<line x1="589.5" y1="141.8" x2="589.5" y2="154.6" stroke="#3a2a2a" stroke-width="0.9"/>
<line x1="587.9" y1="141.8" x2="591.1" y2="141.8" stroke="#3a2a2a" stroke-width="0.9"/>
<line x1="587.9" y1="154.6" x2="591.1" y2="154.6" stroke="#3a2a2a" stroke-width="0.9"/>
<line x1="616.5" y1="128.7" x2="616.5" y2="139.8" stroke="#3a2a2a" stroke-width="0.9"/>
<line x1="614.9" y1="128.7" x2="618.1" y2="128.7" stroke="#3a2a2a" stroke-width="0.9"/>
<line x1="614.9" y1="139.8" x2="618.1" y2="139.8" stroke="#3a2a2a" stroke-width="0.9"/>
<line x1="636" y1="141.8" x2="636" y2="150" stroke="#3a2a2a" stroke-width="0.9"/>
<line x1="634.4" y1="141.8" x2="637.6" y2="141.8" stroke="#3a2a2a" stroke-width="0.9"/>
<line x1="634.4" y1="150" x2="637.6" y2="150" stroke="#3a2a2a" stroke-width="0.9"/>
<circle cx="516.3" cy="167.7" r="1.55" fill="#ff1a1a"/>
<circle cx="555.9" cy="163.8" r="1.55" fill="#ff1a1a"/>
<circle cx="589.5" cy="148.2" r="1.55" fill="#ff1a1a"/>
<circle cx="616.5" cy="148.2" r="1.55" fill="#ff1a1a"/>
<circle cx="636" cy="141" r="1.55" fill="#ff1a1a"/>
<rect x="514.85" y="186.85" width="2.9" height="2.9" fill="#1010ee"/>
<rect x="554.45" y="181.05" width="2.9" height="2.9" fill="#1010ee"/>
<rect x="588.05" y="146.75" width="2.9" height="2.9" fill="#1010ee"/>
<rect x="615.05" y="132.75" width="2.9" height="2.9" fill="#1010ee"/>
<rect x="634.55" y="144.45" width="2.9" height="2.9" fill="#1010ee"/>
<text x="587" y="226" font-size="7.8" fill="#222" text-anchor="middle" letter-spacing="0.2">%MTL</text>
<text transform="translate(477.6,155.2) rotate(-90)" font-size="6.95" fill="#000" text-anchor="middle"><tspan font-style="italic">k</tspan><tspan font-size="5" dy="1.3">a</tspan><tspan dy="-1.3"> (x 10</tspan><tspan font-size="5" dy="-2.5">7</tspan><tspan dy="2.5">) (M</tspan><tspan font-size="5" dy="-2.5">-1</tspan><tspan dy="2.5">s</tspan><tspan font-size="5" dy="-2.5">-1</tspan><tspan dy="2.5">)</tspan></text>
<text x="458.4" y="117.5" font-size="17" fill="#000" font-weight="bold">f</text>
<line x1="41.3" y1="336.3" x2="41.3" y2="225.6" stroke="#666" stroke-width="1"/>
<line x1="39" y1="336.3" x2="41.3" y2="336.3" stroke="#333" stroke-width="1"/>
<text x="37.7" y="339.04" font-size="7.6" fill="#111" text-anchor="end">8</text>
<line x1="39" y1="308.62" x2="41.3" y2="308.62" stroke="#333" stroke-width="1"/>
<text x="37.7" y="311.36" font-size="7.6" fill="#111" text-anchor="end">9</text>
<line x1="39" y1="280.95" x2="41.3" y2="280.95" stroke="#333" stroke-width="1"/>
<text x="37.7" y="283.69" font-size="7.6" fill="#111" text-anchor="end">10</text>
<line x1="39" y1="253.28" x2="41.3" y2="253.28" stroke="#333" stroke-width="1"/>
<text x="37.7" y="256.01" font-size="7.6" fill="#111" text-anchor="end">11</text>
<line x1="39" y1="225.6" x2="41.3" y2="225.6" stroke="#333" stroke-width="1"/>
<text x="37.7" y="228.34" font-size="7.6" fill="#111" text-anchor="end">12</text>
<line x1="38.7" y1="336.3" x2="214.2" y2="336.3" stroke="#222" stroke-width="1"/>
<line x1="41.3" y1="336.3" x2="41.3" y2="339.1" stroke="#222" stroke-width="1"/>
<text x="41.3" y="343.6" font-size="6.3" fill="#111" text-anchor="middle">8</text>
<line x1="84.4" y1="336.3" x2="84.4" y2="339.1" stroke="#222" stroke-width="1"/>
<text x="84.4" y="343.6" font-size="6.3" fill="#111" text-anchor="middle">16</text>
<line x1="127.5" y1="336.3" x2="127.5" y2="339.1" stroke="#222" stroke-width="1"/>
<text x="127.5" y="343.6" font-size="6.3" fill="#111" text-anchor="middle">32</text>
<line x1="170.6" y1="336.3" x2="170.6" y2="339.1" stroke="#222" stroke-width="1"/>
<text x="170.6" y="343.6" font-size="6.3" fill="#111" text-anchor="middle">64</text>
<line x1="213.7" y1="336.3" x2="213.7" y2="339.1" stroke="#222" stroke-width="1"/>
<text x="213.7" y="343.6" font-size="6.3" fill="#111" text-anchor="middle">128</text>
<line x1="42.3" y1="281.5" x2="174.7" y2="281.5" stroke="#555" stroke-width="1" stroke-dasharray="1,1.2"/>
<path d="M61.3,292.7 L98.2,288.5 L129.5,272.7 L154.9,270.1 L172.8,261.6" fill="none" stroke="#ff2a2a" stroke-width="0.9" stroke-linejoin="round"/>
<path d="M61.3,316.5 L98.2,309.9 L129.5,272.7 L154.9,253.6 L172.8,267.3" fill="none" stroke="#5a5aff" stroke-width="0.7" stroke-linejoin="round"/>
<line x1="98.2" y1="304" x2="98.2" y2="315.3" stroke="#3a2a2a" stroke-width="0.9"/>
<line x1="96.6" y1="304" x2="99.8" y2="304" stroke="#3a2a2a" stroke-width="0.9"/>
<line x1="96.6" y1="315.3" x2="99.8" y2="315.3" stroke="#3a2a2a" stroke-width="0.9"/>
<line x1="129.5" y1="265.2" x2="129.5" y2="280.5" stroke="#3a2a2a" stroke-width="0.9"/>
<line x1="127.9" y1="265.2" x2="131.1" y2="265.2" stroke="#3a2a2a" stroke-width="0.9"/>
<line x1="127.9" y1="280.5" x2="131.1" y2="280.5" stroke="#3a2a2a" stroke-width="0.9"/>
<line x1="154.9" y1="247.1" x2="154.9" y2="260" stroke="#3a2a2a" stroke-width="0.9"/>
<line x1="153.3" y1="247.1" x2="156.5" y2="247.1" stroke="#3a2a2a" stroke-width="0.9"/>
<line x1="153.3" y1="260" x2="156.5" y2="260" stroke="#3a2a2a" stroke-width="0.9"/>
<line x1="172.8" y1="263.1" x2="172.8" y2="272.2" stroke="#3a2a2a" stroke-width="0.9"/>
<line x1="171.2" y1="263.1" x2="174.4" y2="263.1" stroke="#3a2a2a" stroke-width="0.9"/>
<line x1="171.2" y1="272.2" x2="174.4" y2="272.2" stroke="#3a2a2a" stroke-width="0.9"/>
<circle cx="61.3" cy="292.7" r="1.55" fill="#ff1a1a"/>
<circle cx="98.2" cy="288.5" r="1.55" fill="#ff1a1a"/>
<circle cx="129.5" cy="272.7" r="1.55" fill="#ff1a1a"/>
<circle cx="154.9" cy="270.1" r="1.55" fill="#ff1a1a"/>
<circle cx="172.8" cy="261.6" r="1.55" fill="#ff1a1a"/>
<rect x="59.85" y="315.05" width="2.9" height="2.9" fill="#1010ee"/>
<rect x="96.75" y="308.45" width="2.9" height="2.9" fill="#1010ee"/>
<rect x="128.05" y="271.25" width="2.9" height="2.9" fill="#1010ee"/>
<rect x="153.45" y="252.15" width="2.9" height="2.9" fill="#1010ee"/>
<rect x="171.35" y="265.85" width="2.9" height="2.9" fill="#1010ee"/>
<text x="125.7" y="356.4" font-size="7.8" fill="#222" text-anchor="middle" letter-spacing="0.2">%MTL</text>
<text transform="translate(27.7,278) rotate(-90)" font-size="7.6" fill="#000" text-anchor="middle"><tspan font-style="italic">k</tspan><tspan font-size="5.2" dy="1.3">d</tspan><tspan dy="-1.3"> (s</tspan><tspan font-size="5.2" dy="-2.6">-1</tspan><tspan dy="2.6">)</tspan></text>
<text x="1" y="231.5" font-size="17" fill="#000" font-weight="bold">g</text>
<line x1="275.6" y1="334.9" x2="275.6" y2="238.3" stroke="#333" stroke-width="1"/>
<line x1="273.3" y1="326.12" x2="275.6" y2="326.12" stroke="#333" stroke-width="1"/>
<text x="271.8" y="328.52" font-size="7" fill="#222" text-anchor="end">1</text>
<line x1="273.3" y1="282.22" x2="275.6" y2="282.22" stroke="#333" stroke-width="1"/>
<text x="271.8" y="284.62" font-size="7" fill="#222" text-anchor="end">2</text>
<line x1="273.3" y1="238.32" x2="275.6" y2="238.32" stroke="#333" stroke-width="1"/>
<text x="271.8" y="240.72" font-size="7" fill="#222" text-anchor="end">3</text>
<line x1="273.3" y1="334.9" x2="429.8" y2="334.9" stroke="#222" stroke-width="1"/>
<line x1="275.3" y1="334.9" x2="275.3" y2="337.7" stroke="#222" stroke-width="1"/>
<text x="275.3" y="346.8" font-size="7" fill="#222" text-anchor="middle">0</text>
<line x1="313.8" y1="334.9" x2="313.8" y2="337.7" stroke="#222" stroke-width="1"/>
<text x="313.8" y="346.8" font-size="7" fill="#222" text-anchor="middle">20</text>
<line x1="352.3" y1="334.9" x2="352.3" y2="337.7" stroke="#222" stroke-width="1"/>
<text x="352.3" y="346.8" font-size="7" fill="#222" text-anchor="middle">40</text>
<line x1="390.8" y1="334.9" x2="390.8" y2="337.7" stroke="#222" stroke-width="1"/>
<text x="390.8" y="346.8" font-size="7" fill="#222" text-anchor="middle">60</text>
<line x1="429.3" y1="334.9" x2="429.3" y2="337.7" stroke="#222" stroke-width="1"/>
<text x="429.3" y="346.8" font-size="7" fill="#222" text-anchor="middle">80</text>
<line x1="275.6" y1="318.5" x2="405" y2="318.5" stroke="#666" stroke-width="1"/>
<line x1="405" y1="318.5" x2="410.5" y2="318.5" stroke="#777" stroke-width="1" stroke-dasharray="1.5,1.5"/>
<line x1="313.9" y1="239" x2="313.9" y2="296.5" stroke="#6a6aff" stroke-width="0.9"/>
<line x1="312.5" y1="260" x2="315.3" y2="260" stroke="#6a6aff" stroke-width="0.9"/>
<line x1="312.5" y1="296.5" x2="315.3" y2="296.5" stroke="#6a6aff" stroke-width="0.9"/>
<line x1="313.9" y1="260" x2="313.9" y2="296.5" stroke="#6a6aff" stroke-width="0.6"/>
<line x1="339.2" y1="319.5" x2="339.2" y2="325.5" stroke="#6a6aff" stroke-width="0.9"/>
<line x1="337.8" y1="325.5" x2="340.6" y2="325.5" stroke="#6a6aff" stroke-width="0.9"/>
<path d="M313.9,278.2 L339.2,322.5 L371.4,321.5 L403.7,317.5" fill="none" stroke="#3a3aff" stroke-width="0.9" stroke-linejoin="round"/>
<circle cx="313.9" cy="278.2" r="2.0" fill="#1010ee"/>
<circle cx="339.2" cy="322.5" r="2.0" fill="#1010ee"/>
<circle cx="371.4" cy="321.5" r="2.0" fill="#1010ee"/>
<circle cx="403.7" cy="317.5" r="2.0" fill="#1010ee"/>
<text x="352.3" y="359" font-size="8" fill="#222" text-anchor="middle">%MTL</text>
<text transform="translate(261.0,287.4) rotate(-90)" font-size="8" fill="#000" text-anchor="middle"><tspan font-style="italic">k</tspan><tspan font-size="5.4" dy="1.4">t</tspan><tspan dy="-1.4"> (x 10</tspan><tspan font-size="5.4" dy="-2.7">8</tspan><tspan dy="2.7">) (m s</tspan><tspan font-size="5.4" dy="-2.7">-1</tspan><tspan dy="2.7">)</tspan></text>
<text x="238" y="232" font-size="17" fill="#000" font-weight="bold">h</text>
<rect x="590.5" y="242.3" width="11.88" height="10" fill="#ff0000"/>
<rect x="588.5" y="257.6" width="2" height="10.4" fill="#0000ff"/>
<rect x="590.5" y="273.6" width="64.86" height="10.5" fill="#ff0000"/>
<rect x="590.5" y="289.3" width="88" height="11" fill="#0000ff"/>
<rect x="545.1" y="305.5" width="45.4" height="10.4" fill="#ff0000"/>
<rect x="575.4" y="321.4" width="15.1" height="10.6" fill="#0000ff"/>
<rect x="502.5" y="236.5" width="176.0" height="100.0" fill="none" stroke="#333" stroke-width="1"/>
<line x1="590.5" y1="236.5" x2="590.5" y2="336.5" stroke="#333" stroke-width="1"/>
<line x1="500.2" y1="247.3" x2="502.5" y2="247.3" stroke="#333" stroke-width="1"/>
<line x1="500.2" y1="262.9" x2="502.5" y2="262.9" stroke="#333" stroke-width="1"/>
<line x1="500.2" y1="278.9" x2="502.5" y2="278.9" stroke="#333" stroke-width="1"/>
<line x1="500.2" y1="294.5" x2="502.5" y2="294.5" stroke="#333" stroke-width="1"/>
<line x1="500.2" y1="310.6" x2="502.5" y2="310.6" stroke="#333" stroke-width="1"/>
<line x1="500.2" y1="326.7" x2="502.5" y2="326.7" stroke="#333" stroke-width="1"/>
<line x1="502.5" y1="336.5" x2="502.5" y2="339.3" stroke="#333" stroke-width="1"/>
<text x="502" y="347.6" font-size="6.9" fill="#222" text-anchor="middle">-1.0</text>
<line x1="546.5" y1="336.5" x2="546.5" y2="339.3" stroke="#333" stroke-width="1"/>
<text x="546" y="347.6" font-size="6.9" fill="#222" text-anchor="middle">-0.5</text>
<line x1="590.5" y1="336.5" x2="590.5" y2="339.3" stroke="#333" stroke-width="1"/>
<text x="590.5" y="347.6" font-size="6.9" fill="#222" text-anchor="middle">0.0</text>
<line x1="634.5" y1="336.5" x2="634.5" y2="339.3" stroke="#333" stroke-width="1"/>
<text x="634.5" y="347.6" font-size="6.9" fill="#222" text-anchor="middle">0.5</text>
<line x1="678.5" y1="336.5" x2="678.5" y2="339.3" stroke="#333" stroke-width="1"/>
<text x="678.5" y="347.6" font-size="6.9" fill="#222" text-anchor="middle">1.0</text>
<text x="590.4" y="360.4" font-size="9.5" fill="#222" text-anchor="middle">Correlation Coefficient</text>
<text x="499.8" y="250.2" font-size="9" fill="#222" text-anchor="end" font-style="italic">R<tspan font-size="5.3" dy="1.8">max</tspan><tspan dy="-1.8">:k</tspan><tspan font-size="5.3" dy="1.8">d</tspan></text>
<text x="499.8" y="281.6" font-size="9" fill="#222" text-anchor="end" font-style="italic">k<tspan font-size="5.3" dy="1.8">a</tspan><tspan dy="-1.8">:k</tspan><tspan font-size="5.3" dy="1.8">d</tspan></text>
<text x="499.8" y="313.5" font-size="9" fill="#222" text-anchor="end" font-style="italic">k<tspan font-size="5.3" dy="1.8">a</tspan><tspan dy="-1.8">:R</tspan><tspan font-size="5.3" dy="1.8">max</tspan></text>
<rect x="597.6" y="314.9" width="10.8" height="4.8" rx="1.5" fill="#ff0000"/>
<rect x="597.6" y="324.4" width="10.8" height="4.8" rx="1.5" fill="#0000ff"/>
<text x="614.0" y="319.3" font-size="7.6" fill="#222"><tspan font-style="italic">k</tspan><tspan font-size="5" dy="1.3">t</tspan><tspan dy="-1.3"> constant</tspan></text>
<text x="614.0" y="328.9" font-size="7.6" fill="#222"><tspan font-style="italic">k</tspan><tspan font-size="5" dy="1.3">t</tspan><tspan dy="-1.3"> global</tspan></text>
<text x="458" y="231.5" font-size="17" fill="#000" font-weight="bold">i</text>
</svg></body></html>
